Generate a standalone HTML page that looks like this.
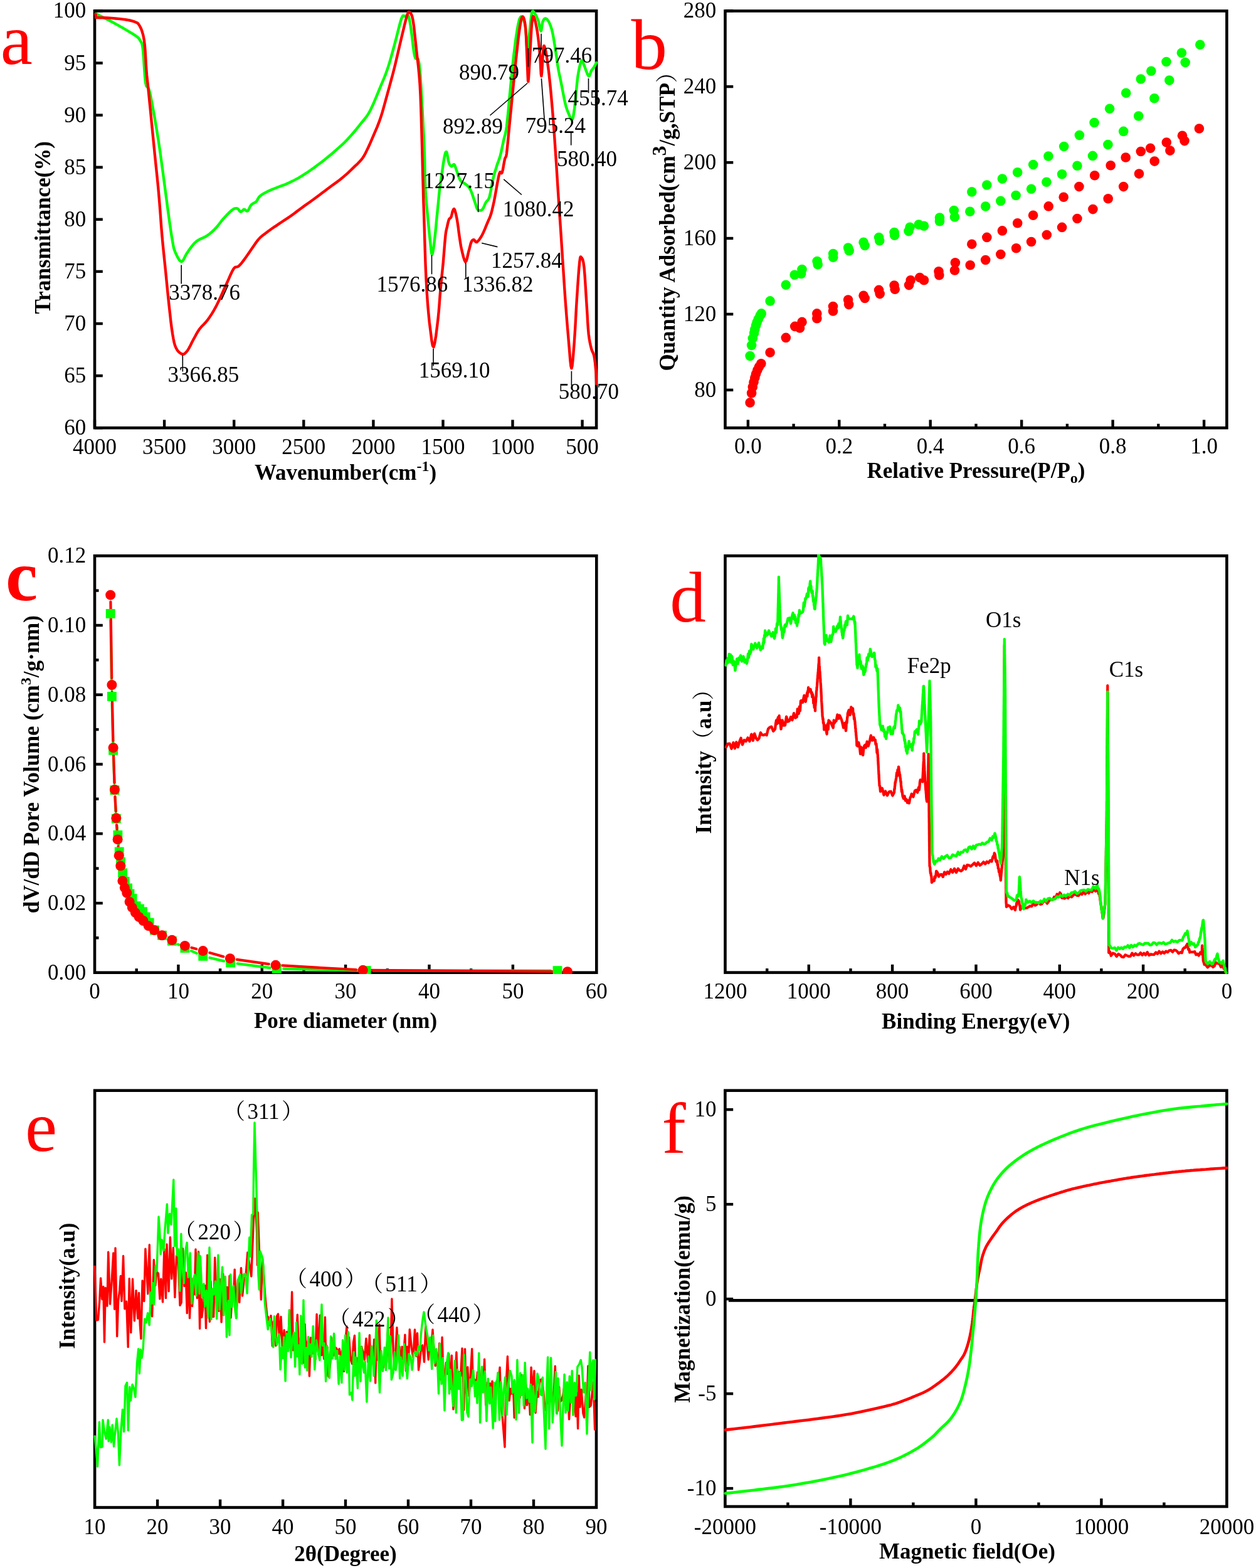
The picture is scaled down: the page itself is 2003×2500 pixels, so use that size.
<!DOCTYPE html>
<html><head><meta charset="utf-8"><style>
html,body{margin:0;padding:0;background:#fff;}
svg{display:block;}
text{font-family:"Liberation Serif","Noto Serif CJK SC",serif;}
</style></head><body>
<svg width="2003" height="2500" viewBox="0 0 2003 2500">
<rect width="2003" height="2500" fill="#fff"/>
<clipPath id="ca"><rect x="148.7" y="15.1" width="804.7" height="669.4"/></clipPath>
<rect x="151.0" y="17.4" width="800.1" height="664.8" fill="none" stroke="#000" stroke-width="4.6"/>
<line x1="151.0" y1="682.2" x2="151.0" y2="669.4" stroke="#000" stroke-width="4.4"/>
<line x1="262.1" y1="682.2" x2="262.1" y2="669.4" stroke="#000" stroke-width="4.4"/>
<line x1="373.2" y1="682.2" x2="373.2" y2="669.4" stroke="#000" stroke-width="4.4"/>
<line x1="484.3" y1="682.2" x2="484.3" y2="669.4" stroke="#000" stroke-width="4.4"/>
<line x1="595.4" y1="682.2" x2="595.4" y2="669.4" stroke="#000" stroke-width="4.4"/>
<line x1="706.5" y1="682.2" x2="706.5" y2="669.4" stroke="#000" stroke-width="4.4"/>
<line x1="817.5" y1="682.2" x2="817.5" y2="669.4" stroke="#000" stroke-width="4.4"/>
<line x1="928.6" y1="682.2" x2="928.6" y2="669.4" stroke="#000" stroke-width="4.4"/>
<line x1="151.0" y1="682.2" x2="163.8" y2="682.2" stroke="#000" stroke-width="4.4"/>
<line x1="151.0" y1="599.1" x2="163.8" y2="599.1" stroke="#000" stroke-width="4.4"/>
<line x1="151.0" y1="516.0" x2="163.8" y2="516.0" stroke="#000" stroke-width="4.4"/>
<line x1="151.0" y1="432.9" x2="163.8" y2="432.9" stroke="#000" stroke-width="4.4"/>
<line x1="151.0" y1="349.8" x2="163.8" y2="349.8" stroke="#000" stroke-width="4.4"/>
<line x1="151.0" y1="266.7" x2="163.8" y2="266.7" stroke="#000" stroke-width="4.4"/>
<line x1="151.0" y1="183.6" x2="163.8" y2="183.6" stroke="#000" stroke-width="4.4"/>
<line x1="151.0" y1="100.5" x2="163.8" y2="100.5" stroke="#000" stroke-width="4.4"/>
<line x1="151.0" y1="17.4" x2="163.8" y2="17.4" stroke="#000" stroke-width="4.4"/>
<rect x="1156.5" y="17.5" width="799.9" height="664.7" fill="none" stroke="#000" stroke-width="4.6"/>
<line x1="1192.9" y1="682.2" x2="1192.9" y2="669.4" stroke="#000" stroke-width="4.4"/>
<line x1="1265.6" y1="682.2" x2="1265.6" y2="675.7" stroke="#000" stroke-width="4.4"/>
<line x1="1338.3" y1="682.2" x2="1338.3" y2="669.4" stroke="#000" stroke-width="4.4"/>
<line x1="1411.0" y1="682.2" x2="1411.0" y2="675.7" stroke="#000" stroke-width="4.4"/>
<line x1="1483.7" y1="682.2" x2="1483.7" y2="669.4" stroke="#000" stroke-width="4.4"/>
<line x1="1556.5" y1="682.2" x2="1556.5" y2="675.7" stroke="#000" stroke-width="4.4"/>
<line x1="1629.2" y1="682.2" x2="1629.2" y2="669.4" stroke="#000" stroke-width="4.4"/>
<line x1="1701.9" y1="682.2" x2="1701.9" y2="675.7" stroke="#000" stroke-width="4.4"/>
<line x1="1774.6" y1="682.2" x2="1774.6" y2="669.4" stroke="#000" stroke-width="4.4"/>
<line x1="1847.3" y1="682.2" x2="1847.3" y2="675.7" stroke="#000" stroke-width="4.4"/>
<line x1="1920.1" y1="682.2" x2="1920.1" y2="669.4" stroke="#000" stroke-width="4.4"/>
<line x1="1156.5" y1="621.8" x2="1169.3" y2="621.8" stroke="#000" stroke-width="4.4"/>
<line x1="1156.5" y1="500.9" x2="1169.3" y2="500.9" stroke="#000" stroke-width="4.4"/>
<line x1="1156.5" y1="380.0" x2="1169.3" y2="380.0" stroke="#000" stroke-width="4.4"/>
<line x1="1156.5" y1="259.1" x2="1169.3" y2="259.1" stroke="#000" stroke-width="4.4"/>
<line x1="1156.5" y1="138.1" x2="1169.3" y2="138.1" stroke="#000" stroke-width="4.4"/>
<line x1="1156.5" y1="17.2" x2="1169.3" y2="17.2" stroke="#000" stroke-width="4.4"/>
<clipPath id="cc"><rect x="148.7" y="883.9" width="804.9" height="669.1"/></clipPath>
<rect x="151.0" y="886.2" width="800.3" height="664.5" fill="none" stroke="#000" stroke-width="4.6"/>
<line x1="217.7" y1="1550.7" x2="217.7" y2="1544.2" stroke="#000" stroke-width="4.4"/>
<line x1="284.4" y1="1550.7" x2="284.4" y2="1537.9" stroke="#000" stroke-width="4.4"/>
<line x1="351.1" y1="1550.7" x2="351.1" y2="1544.2" stroke="#000" stroke-width="4.4"/>
<line x1="417.8" y1="1550.7" x2="417.8" y2="1537.9" stroke="#000" stroke-width="4.4"/>
<line x1="484.5" y1="1550.7" x2="484.5" y2="1544.2" stroke="#000" stroke-width="4.4"/>
<line x1="551.1" y1="1550.7" x2="551.1" y2="1537.9" stroke="#000" stroke-width="4.4"/>
<line x1="617.8" y1="1550.7" x2="617.8" y2="1544.2" stroke="#000" stroke-width="4.4"/>
<line x1="684.5" y1="1550.7" x2="684.5" y2="1537.9" stroke="#000" stroke-width="4.4"/>
<line x1="751.2" y1="1550.7" x2="751.2" y2="1544.2" stroke="#000" stroke-width="4.4"/>
<line x1="817.9" y1="1550.7" x2="817.9" y2="1537.9" stroke="#000" stroke-width="4.4"/>
<line x1="884.6" y1="1550.7" x2="884.6" y2="1544.2" stroke="#000" stroke-width="4.4"/>
<line x1="151.0" y1="1495.3" x2="157.5" y2="1495.3" stroke="#000" stroke-width="4.4"/>
<line x1="151.0" y1="1440.0" x2="163.8" y2="1440.0" stroke="#000" stroke-width="4.4"/>
<line x1="151.0" y1="1384.6" x2="157.5" y2="1384.6" stroke="#000" stroke-width="4.4"/>
<line x1="151.0" y1="1329.2" x2="163.8" y2="1329.2" stroke="#000" stroke-width="4.4"/>
<line x1="151.0" y1="1273.8" x2="157.5" y2="1273.8" stroke="#000" stroke-width="4.4"/>
<line x1="151.0" y1="1218.5" x2="163.8" y2="1218.5" stroke="#000" stroke-width="4.4"/>
<line x1="151.0" y1="1163.1" x2="157.5" y2="1163.1" stroke="#000" stroke-width="4.4"/>
<line x1="151.0" y1="1107.7" x2="163.8" y2="1107.7" stroke="#000" stroke-width="4.4"/>
<line x1="151.0" y1="1052.3" x2="157.5" y2="1052.3" stroke="#000" stroke-width="4.4"/>
<line x1="151.0" y1="997.0" x2="163.8" y2="997.0" stroke="#000" stroke-width="4.4"/>
<line x1="151.0" y1="941.6" x2="157.5" y2="941.6" stroke="#000" stroke-width="4.4"/>
<clipPath id="cd"><rect x="1154.2" y="883.9" width="804.5" height="669.0"/></clipPath>
<rect x="1156.5" y="886.2" width="799.9" height="664.4" fill="none" stroke="#000" stroke-width="4.6"/>
<line x1="1889.7" y1="1550.6" x2="1889.7" y2="1544.1" stroke="#000" stroke-width="4.4"/>
<line x1="1823.1" y1="1550.6" x2="1823.1" y2="1537.8" stroke="#000" stroke-width="4.4"/>
<line x1="1756.4" y1="1550.6" x2="1756.4" y2="1544.1" stroke="#000" stroke-width="4.4"/>
<line x1="1689.8" y1="1550.6" x2="1689.8" y2="1537.8" stroke="#000" stroke-width="4.4"/>
<line x1="1623.1" y1="1550.6" x2="1623.1" y2="1544.1" stroke="#000" stroke-width="4.4"/>
<line x1="1556.5" y1="1550.6" x2="1556.5" y2="1537.8" stroke="#000" stroke-width="4.4"/>
<line x1="1489.8" y1="1550.6" x2="1489.8" y2="1544.1" stroke="#000" stroke-width="4.4"/>
<line x1="1423.1" y1="1550.6" x2="1423.1" y2="1537.8" stroke="#000" stroke-width="4.4"/>
<line x1="1356.5" y1="1550.6" x2="1356.5" y2="1544.1" stroke="#000" stroke-width="4.4"/>
<line x1="1289.8" y1="1550.6" x2="1289.8" y2="1537.8" stroke="#000" stroke-width="4.4"/>
<line x1="1223.2" y1="1550.6" x2="1223.2" y2="1544.1" stroke="#000" stroke-width="4.4"/>
<clipPath id="ce"><rect x="148.8" y="1736.4" width="804.5" height="669.4"/></clipPath>
<rect x="151.1" y="1738.7" width="799.9" height="664.8" fill="none" stroke="#000" stroke-width="4.6"/>
<line x1="251.1" y1="2403.5" x2="251.1" y2="2390.7" stroke="#000" stroke-width="4.4"/>
<line x1="351.1" y1="2403.5" x2="351.1" y2="2390.7" stroke="#000" stroke-width="4.4"/>
<line x1="451.1" y1="2403.5" x2="451.1" y2="2390.7" stroke="#000" stroke-width="4.4"/>
<line x1="551.0" y1="2403.5" x2="551.0" y2="2390.7" stroke="#000" stroke-width="4.4"/>
<line x1="651.0" y1="2403.5" x2="651.0" y2="2390.7" stroke="#000" stroke-width="4.4"/>
<line x1="751.0" y1="2403.5" x2="751.0" y2="2390.7" stroke="#000" stroke-width="4.4"/>
<line x1="851.0" y1="2403.5" x2="851.0" y2="2390.7" stroke="#000" stroke-width="4.4"/>
<clipPath id="cf"><rect x="1154.1" y="1736.4" width="804.6" height="667.9"/></clipPath>
<rect x="1156.4" y="1738.7" width="800.0" height="663.3" fill="none" stroke="#000" stroke-width="4.6"/>
<line x1="1256.4" y1="2402.0" x2="1256.4" y2="2395.5" stroke="#000" stroke-width="4.4"/>
<line x1="1356.4" y1="2402.0" x2="1356.4" y2="2389.2" stroke="#000" stroke-width="4.4"/>
<line x1="1456.4" y1="2402.0" x2="1456.4" y2="2395.5" stroke="#000" stroke-width="4.4"/>
<line x1="1556.4" y1="2402.0" x2="1556.4" y2="2389.2" stroke="#000" stroke-width="4.4"/>
<line x1="1656.4" y1="2402.0" x2="1656.4" y2="2395.5" stroke="#000" stroke-width="4.4"/>
<line x1="1756.4" y1="2402.0" x2="1756.4" y2="2389.2" stroke="#000" stroke-width="4.4"/>
<line x1="1856.4" y1="2402.0" x2="1856.4" y2="2395.5" stroke="#000" stroke-width="4.4"/>
<line x1="1156.4" y1="2373.1" x2="1169.2" y2="2373.1" stroke="#000" stroke-width="4.4"/>
<line x1="1156.4" y1="2222.1" x2="1169.2" y2="2222.1" stroke="#000" stroke-width="4.4"/>
<line x1="1156.4" y1="2071.1" x2="1169.2" y2="2071.1" stroke="#000" stroke-width="4.4"/>
<line x1="1156.4" y1="1920.1" x2="1169.2" y2="1920.1" stroke="#000" stroke-width="4.4"/>
<line x1="1156.4" y1="1769.1" x2="1169.2" y2="1769.1" stroke="#000" stroke-width="4.4"/>
<line x1="1161.9" y1="2073.4" x2="1956.4" y2="2073.4" stroke="#000" stroke-width="4.6"/>
<g clip-path="url(#ca)">
<polyline points="152.8,22.0 157.0,24.0 163.0,26.9 170.2,30.5 177.8,34.5 186.7,39.4 196.9,45.1 206.5,50.8 214.0,55.4 218.4,58.5 220.9,60.7 222.4,62.6 223.8,65.1 225.2,67.4 226.2,69.3 227.0,72.7 227.9,79.0 228.9,90.5 229.9,105.6 230.9,120.7 232.1,131.9 233.4,137.1 234.7,138.7 236.2,139.6 237.7,143.0 239.3,149.4 241.0,157.3 242.7,166.4 244.6,176.4 246.7,188.0 248.9,201.1 251.1,214.4 253.0,226.5 254.6,237.0 255.9,246.5 257.2,255.8 258.5,265.5 259.9,275.7 261.3,286.2 262.7,296.7 264.1,307.2 265.5,317.8 266.9,328.4 268.3,338.9 269.7,349.0 271.1,358.9 272.5,368.7 273.9,377.7 275.2,385.2 276.2,390.8 277.0,394.9 278.0,398.3 279.4,401.9 281.5,406.5 284.0,411.4 286.7,415.4 289.2,417.2 291.3,416.1 293.3,412.8 295.3,408.6 297.5,404.6 300.1,400.8 303.0,396.6 305.9,392.6 308.6,389.3 310.8,387.0 312.6,385.3 314.6,383.9 317.0,382.4 320.1,380.8 323.6,379.2 327.3,377.5 330.9,375.4 334.4,372.7 338.0,369.6 341.5,366.3 344.8,362.9 347.7,359.5 350.4,356.0 353.1,352.5 356.0,349.0 359.4,345.2 363.1,341.3 366.8,337.7 369.9,335.0 372.4,333.3 374.6,332.4 376.4,332.1 378.2,332.3 379.8,333.3 381.2,335.1 382.5,336.9 383.8,337.8 385.2,337.3 386.6,335.9 388.0,334.5 389.4,333.7 390.8,334.2 392.1,335.5 393.5,336.5 394.9,336.5 396.2,334.8 397.5,332.1 398.9,329.1 400.5,326.7 402.4,325.1 404.6,323.9 406.9,322.7 408.8,321.2 410.2,319.3 411.2,317.2 412.5,315.0 414.4,312.8 417.1,310.7 420.4,308.7 424.1,306.6 428.3,304.5 433.3,302.3 439.2,300.0 444.8,297.8 449.2,296.1 451.7,295.2 453.0,294.8 454.3,294.4 456.7,293.3 460.7,291.4 465.7,289.1 471.0,286.4 476.2,283.6 481.0,280.7 485.8,277.7 490.6,274.5 495.7,271.0 501.2,267.1 507.0,262.8 512.7,258.5 517.9,254.4 522.4,250.8 526.4,247.5 530.4,244.1 534.6,240.4 539.2,236.4 544.0,232.1 549.0,227.5 554.1,222.3 559.7,216.1 565.6,209.2 571.4,202.2 576.4,195.9 580.4,191.0 583.7,186.9 586.8,182.5 590.3,176.4 594.4,167.8 598.8,157.5 603.2,146.9 607.0,137.5 610.2,130.0 612.9,123.5 615.4,117.1 618.1,109.6 620.9,100.7 623.7,91.0 626.5,80.9 629.3,70.7 632.2,59.5 635.2,47.5 638.0,36.7 640.4,28.9 642.2,25.4 643.6,24.9 644.7,25.7 646.0,26.1 647.4,25.4 648.8,24.5 650.2,24.5 651.5,26.1 652.6,29.8 653.7,35.2 654.7,41.5 655.7,48.4 656.8,56.5 657.9,65.8 658.9,74.8 659.9,81.8 660.7,86.4 661.3,89.3 661.9,91.3 662.7,92.9 663.7,93.5 664.8,93.2 665.8,93.0 666.8,94.3 667.6,97.1 668.3,100.8 668.9,105.8 669.6,112.4 670.3,120.2 670.9,129.2 671.6,140.3 672.4,154.2 673.4,172.6 674.6,194.7 675.7,217.3 676.6,237.7 677.2,255.2 677.5,271.5 677.8,286.4 678.3,300.0 679.0,311.9 679.9,322.2 680.8,331.8 681.8,341.8 682.8,352.7 683.9,363.9 684.9,374.4 685.9,383.5 686.7,391.5 687.5,398.7 688.2,403.8 689.0,405.8 689.9,403.8 690.9,398.6 691.9,391.5 692.9,383.5 693.9,374.4 695.0,363.9 696.0,352.7 697.1,341.8 698.2,330.9 699.3,319.6 700.3,308.9 701.3,300.0 702.1,293.6 702.8,289.0 703.5,284.8 704.3,279.6 705.3,272.5 706.4,264.5 707.6,256.8 708.6,250.8 709.5,246.6 710.4,243.6 711.2,242.1 712.1,242.2 713.0,245.0 713.9,250.0 714.8,255.4 715.8,259.5 716.8,261.9 717.9,263.6 719.0,264.7 720.1,265.2 721.2,264.7 722.2,263.4 723.3,262.2 724.4,262.3 725.5,264.1 726.5,267.0 727.6,270.4 728.8,273.8 730.1,277.4 731.4,281.4 732.8,285.1 734.5,288.2 736.5,290.2 738.7,291.5 741.0,292.6 743.1,294.0 745.0,295.7 746.8,297.4 748.5,299.6 750.3,302.6 752.2,307.0 754.1,312.5 755.9,318.0 757.5,322.7 758.7,326.4 759.6,329.7 760.6,332.3 761.8,334.2 763.4,335.3 765.3,335.6 767.2,335.3 769.0,334.2 770.6,332.1 772.0,329.0 773.4,325.6 774.8,322.7 776.2,320.8 777.6,319.5 779.1,317.6 780.5,314.1 781.9,308.1 783.4,300.4 784.9,292.4 786.3,285.3 787.7,279.6 789.1,274.5 790.6,269.8 792.0,265.2 793.4,260.9 794.9,257.0 796.4,252.8 797.8,248.0 799.3,242.0 800.7,235.2 802.2,228.4 803.5,222.1 804.7,217.5 805.7,214.0 806.7,209.5 807.9,202.0 809.2,190.2 810.7,175.5 812.1,159.7 813.6,144.4 815.0,129.8 816.4,115.1 817.9,100.7 819.4,86.9 821.1,73.2 822.9,59.6 824.8,47.4 826.5,38.0 828.0,31.8 829.5,28.1 830.9,26.5 832.3,26.5 833.8,28.3 835.3,32.1 836.8,37.4 838.0,43.8 838.9,53.1 839.6,65.0 840.2,75.5 840.9,81.1 841.6,79.9 842.3,74.3 843.0,66.3 843.8,58.1 844.8,48.9 845.9,38.0 847.0,27.8 848.1,20.8 849.1,17.9 850.2,17.8 851.2,19.1 852.4,20.8 853.8,22.7 855.3,25.5 856.8,28.8 858.2,32.3 859.4,36.9 860.5,42.5 861.6,47.3 862.5,49.5 863.3,47.9 864.0,43.7 864.6,38.8 865.4,35.1 866.3,32.8 867.4,31.0 868.5,29.8 869.7,29.4 871.0,29.8 872.5,30.8 873.9,32.6 875.4,35.1 876.8,38.2 878.3,42.0 879.8,46.6 881.2,52.4 882.7,60.2 884.2,69.5 885.7,78.9 886.9,86.9 887.8,92.7 888.3,97.3 888.9,101.7 889.8,107.0 891.0,113.6 892.5,120.9 894.1,128.4 895.6,135.8 897.0,143.3 898.5,150.9 899.9,158.2 901.3,164.6 902.7,169.9 904.2,174.5 905.7,178.4 907.1,181.8 908.6,185.4 910.0,188.8 911.5,190.9 912.8,190.4 914.0,186.8 915.0,180.7 916.1,173.1 917.1,164.6 918.2,154.6 919.2,142.9 920.3,131.3 921.5,121.4 922.9,113.2 924.4,106.0 925.8,100.4 927.2,97.0 928.3,96.3 929.3,98.0 930.3,101.0 931.5,104.2 933.2,108.4 935.1,113.8 937.0,118.7 938.7,121.4 940.0,121.0 941.0,118.5 942.0,115.4 943.0,112.8 944.1,111.2 945.2,109.8 946.3,108.5 947.3,107.0 948.4,105.2 949.5,103.1 950.4,101.3 951.1,100.0" fill="none" stroke="#00ff00" stroke-width="4.4" stroke-linejoin="round" stroke-linecap="round"/>
<polyline points="152.5,22.5 152.7,23.5 152.9,25.0 153.2,26.4 153.5,27.5 153.3,27.9 152.9,28.0 153.1,28.0 155.0,28.0 159.1,28.2 164.9,28.3 171.4,28.5 177.8,28.9 184.2,29.5 191.0,30.1 197.5,30.9 202.9,31.7 207.1,32.5 210.4,33.3 213.1,34.1 215.4,35.0 217.3,35.7 218.6,36.4 219.8,37.2 221.0,38.7 222.4,40.7 223.8,43.2 225.2,46.2 226.5,49.8 227.7,53.8 228.8,58.3 229.8,63.8 230.7,70.7 231.5,80.0 232.2,91.1 232.8,102.5 233.5,112.4 234.1,119.7 234.7,125.4 235.4,131.6 236.3,140.2 237.5,152.2 238.9,166.3 240.4,181.3 241.8,195.9 243.2,209.8 244.6,223.8 246.0,237.7 247.4,251.6 248.8,265.2 250.2,278.5 251.6,292.3 253.0,307.2 254.4,323.9 255.8,342.0 257.1,360.0 258.5,376.8 259.9,391.7 261.3,405.5 262.7,418.9 264.1,432.5 265.5,446.7 266.9,461.0 268.3,475.0 269.7,488.1 271.1,500.5 272.4,512.5 273.8,523.4 275.2,532.7 276.5,540.1 277.7,546.0 279.1,550.8 280.8,555.0 283.0,558.7 285.5,561.6 288.2,563.6 290.6,564.7 292.7,564.7 294.8,563.6 296.8,561.7 298.9,559.1 301.2,555.4 303.7,550.7 306.1,545.7 308.6,541.0 311.0,536.7 313.3,532.4 315.8,528.2 318.4,524.3 321.3,520.8 324.4,517.7 327.6,514.4 330.9,510.4 334.2,505.7 337.6,500.6 341.1,494.8 344.8,488.1 348.9,479.8 353.3,470.1 357.6,460.5 361.5,452.0 364.8,444.7 367.6,438.2 370.2,432.6 372.7,428.3 374.9,426.1 376.9,425.6 378.8,425.4 381.0,424.1 383.4,421.6 385.9,418.6 388.7,414.9 392.1,410.2 396.6,403.8 401.9,396.0 407.1,388.4 411.6,382.4 415.0,378.6 417.7,376.3 420.1,374.5 422.7,372.6 425.4,370.5 428.0,368.5 430.8,366.5 433.9,364.3 437.4,361.9 441.3,359.3 445.2,356.6 449.2,354.0 453.1,351.4 457.0,348.8 461.0,346.2 465.0,343.4 469.0,340.4 473.1,337.4 477.3,334.2 481.7,330.9 486.3,327.6 491.1,324.2 496.1,320.7 501.2,317.0 506.6,313.0 512.2,308.8 517.9,304.5 523.5,300.3 529.2,296.1 535.0,291.9 540.6,287.7 545.8,283.6 550.4,279.6 554.7,275.8 558.7,272.0 562.5,268.3 566.3,264.7 570.0,261.3 573.4,257.8 576.4,254.4 578.8,251.2 580.7,248.1 582.6,244.7 584.7,240.4 587.3,235.0 590.1,228.8 593.0,222.1 595.9,215.4 598.7,208.9 601.5,202.4 604.2,195.4 607.0,187.6 609.8,178.7 612.5,169.0 615.3,158.8 618.1,148.6 620.9,138.5 623.7,128.2 626.5,117.7 629.3,106.8 632.1,95.0 635.0,82.6 637.8,70.5 640.4,59.5 642.8,49.6 645.0,40.3 647.0,32.3 648.7,26.1 650.0,22.1 651.0,19.8 651.8,18.9 652.9,19.2 654.2,20.1 655.6,22.1 657.1,25.7 658.5,31.7 659.9,40.9 661.2,52.6 662.6,65.8 664.0,79.0 665.5,91.9 667.0,105.1 668.4,119.2 669.6,134.7 670.5,151.8 671.2,170.1 671.8,189.5 672.4,209.8 673.0,231.8 673.6,255.2 674.2,278.5 674.8,300.0 675.3,319.0 675.9,336.5 676.4,353.2 676.9,369.6 677.4,386.1 677.9,402.3 678.4,417.8 679.0,432.3 679.6,445.6 680.3,458.0 681.0,469.6 681.8,481.0 682.7,492.2 683.7,503.0 684.7,513.3 685.9,522.8 687.2,533.0 688.5,543.5 690.0,551.3 691.5,553.4 693.2,547.6 695.1,536.1 696.9,522.0 698.5,508.8 699.7,496.8 700.7,484.3 701.6,471.9 702.6,460.1 703.7,449.2 704.7,438.8 705.8,428.6 706.8,418.3 707.7,407.2 708.6,395.8 709.5,385.2 710.3,376.6 711.0,370.8 711.7,367.0 712.4,364.2 713.1,361.3 713.8,358.0 714.5,355.0 715.2,352.3 715.9,350.1 716.7,348.7 717.7,348.0 718.6,347.3 719.4,346.0 720.1,343.8 720.8,341.0 721.4,338.2 722.1,336.2 722.8,334.7 723.4,333.5 724.1,333.1 724.9,334.1 725.9,336.9 727.0,341.1 728.1,346.2 729.1,351.5 730.0,357.3 730.9,363.8 731.7,370.4 732.6,376.6 733.4,382.1 734.2,387.4 735.0,392.4 736.1,397.5 737.5,403.4 739.1,409.9 740.8,415.1 742.3,417.6 743.6,416.1 744.9,411.8 746.1,406.4 747.2,401.6 748.3,397.5 749.4,393.2 750.4,389.3 751.4,386.3 752.4,384.3 753.4,383.0 754.4,382.3 755.5,382.1 756.6,382.9 757.7,384.5 758.9,385.9 760.4,386.0 762.3,384.4 764.5,381.8 766.8,378.3 769.0,374.5 771.2,369.9 773.5,364.6 775.7,359.2 777.7,354.4 779.3,350.7 780.7,347.6 782.0,344.3 783.4,340.0 784.8,334.6 786.2,328.5 787.7,321.7 789.2,314.1 790.9,304.7 792.8,293.9 794.7,283.8 796.3,276.7 797.6,274.3 798.7,275.0 799.7,276.2 800.7,275.3 801.8,271.0 802.9,264.9 804.0,258.7 805.0,253.7 805.8,251.4 806.5,250.7 807.1,249.4 807.9,245.1 808.8,237.1 809.9,226.6 811.0,214.6 812.2,202.0 813.5,188.6 815.0,174.1 816.4,159.1 817.9,144.4 819.3,129.7 820.8,114.9 822.3,100.5 823.7,86.9 825.2,73.9 826.6,61.2 828.1,49.9 829.4,40.9 830.6,34.3 831.6,29.7 832.7,27.1 833.7,26.5 834.8,27.7 835.9,30.7 837.0,35.9 838.0,43.8 838.9,56.0 839.6,71.8 840.3,88.0 840.9,101.3 841.3,112.2 841.7,121.9 842.0,128.5 842.4,130.0 843.0,124.4 843.7,113.3 844.5,99.8 845.2,86.9 845.9,74.2 846.6,60.5 847.4,47.7 848.1,38.0 848.8,31.7 849.4,27.8 850.1,26.1 851.0,26.5 852.3,29.5 853.8,34.9 855.3,41.9 856.7,49.5 857.9,57.9 859.1,67.5 860.1,77.4 861.0,86.9 861.7,97.5 862.3,109.0 862.8,118.1 863.4,121.4 864.1,115.8 864.8,103.8 865.5,90.6 866.2,81.1 866.7,76.3 867.1,73.7 867.6,73.0 868.2,74.0 869.1,76.7 870.2,81.2 871.4,87.5 872.6,95.5 873.9,105.3 875.4,116.8 876.8,129.9 878.3,144.4 879.7,160.4 881.2,178.0 882.7,196.8 884.1,216.3 885.5,236.9 887.0,258.6 888.4,280.7 889.8,302.6 891.2,324.2 892.7,345.8 894.2,367.3 895.6,388.9 897.0,410.8 898.5,432.9 899.9,454.6 901.3,475.2 902.8,494.9 904.3,514.0 905.8,531.7 907.1,547.1 908.3,561.3 909.3,574.2 910.4,583.6 911.4,587.3 912.5,583.6 913.5,574.2 914.6,561.3 915.7,547.1 916.8,531.0 917.9,512.2 918.9,492.9 920.0,475.2 921.1,458.6 922.2,442.3 923.3,428.1 924.3,417.6 925.1,411.7 925.7,409.5 926.4,409.5 927.2,410.5 928.2,411.7 929.3,414.0 930.4,418.5 931.5,426.3 932.6,439.2 933.7,456.2 934.8,474.0 935.8,489.5 936.6,502.2 937.2,513.6 937.9,523.8 938.7,532.7 939.7,540.1 940.8,546.2 941.9,551.2 943.0,555.7 944.1,559.1 945.2,561.5 946.3,563.8 947.3,567.2 948.2,572.2 949.0,578.1 949.6,584.3 950.2,590.2 950.6,596.2 950.8,602.5 951.0,608.1 951.1,612.0" fill="none" stroke="#ff0000" stroke-width="4.4" stroke-linejoin="round" stroke-linecap="round"/>
</g>
<circle cx="1196.1" cy="641.9" r="7.8" fill="#ff0000"/>
<circle cx="1198.6" cy="626.7" r="7.8" fill="#ff0000"/>
<circle cx="1200.3" cy="617.1" r="7.8" fill="#ff0000"/>
<circle cx="1202.0" cy="609.3" r="7.8" fill="#ff0000"/>
<circle cx="1203.8" cy="602.3" r="7.8" fill="#ff0000"/>
<circle cx="1205.5" cy="596.3" r="7.8" fill="#ff0000"/>
<circle cx="1207.8" cy="590.2" r="7.8" fill="#ff0000"/>
<circle cx="1210.4" cy="585.0" r="7.8" fill="#ff0000"/>
<circle cx="1213.8" cy="579.8" r="7.8" fill="#ff0000"/>
<circle cx="1228.1" cy="562.0" r="7.8" fill="#ff0000"/>
<circle cx="1253.3" cy="538.4" r="7.8" fill="#ff0000"/>
<circle cx="1267.7" cy="520.4" r="7.8" fill="#ff0000"/>
<circle cx="1275.5" cy="523.0" r="7.8" fill="#ff0000"/>
<circle cx="1279.0" cy="513.4" r="7.8" fill="#ff0000"/>
<circle cx="1302.8" cy="499.9" r="7.8" fill="#ff0000"/>
<circle cx="1302.8" cy="507.7" r="7.8" fill="#ff0000"/>
<circle cx="1328.5" cy="488.6" r="7.8" fill="#ff0000"/>
<circle cx="1328.5" cy="496.0" r="7.8" fill="#ff0000"/>
<circle cx="1352.6" cy="478.0" r="7.8" fill="#ff0000"/>
<circle cx="1353.7" cy="485.6" r="7.8" fill="#ff0000"/>
<circle cx="1377.1" cy="471.2" r="7.8" fill="#ff0000"/>
<circle cx="1379.2" cy="475.4" r="7.8" fill="#ff0000"/>
<circle cx="1401.6" cy="462.4" r="7.8" fill="#ff0000"/>
<circle cx="1403.2" cy="468.6" r="7.8" fill="#ff0000"/>
<circle cx="1426.1" cy="455.1" r="7.8" fill="#ff0000"/>
<circle cx="1427.2" cy="461.3" r="7.8" fill="#ff0000"/>
<circle cx="1452.2" cy="446.7" r="7.8" fill="#ff0000"/>
<circle cx="1449.6" cy="454.6" r="7.8" fill="#ff0000"/>
<circle cx="1466.8" cy="442.6" r="7.8" fill="#ff0000"/>
<circle cx="1473.5" cy="446.7" r="7.8" fill="#ff0000"/>
<circle cx="1497.0" cy="432.7" r="7.8" fill="#ff0000"/>
<circle cx="1497.8" cy="438.8" r="7.8" fill="#ff0000"/>
<circle cx="1523.4" cy="418.8" r="7.8" fill="#ff0000"/>
<circle cx="1522.5" cy="431.0" r="7.8" fill="#ff0000"/>
<circle cx="1549.8" cy="389.3" r="7.8" fill="#ff0000"/>
<circle cx="1573.8" cy="378.4" r="7.8" fill="#ff0000"/>
<circle cx="1598.4" cy="367.9" r="7.8" fill="#ff0000"/>
<circle cx="1622.7" cy="355.8" r="7.8" fill="#ff0000"/>
<circle cx="1647.6" cy="343.3" r="7.8" fill="#ff0000"/>
<circle cx="1672.2" cy="328.9" r="7.8" fill="#ff0000"/>
<circle cx="1696.2" cy="314.3" r="7.8" fill="#ff0000"/>
<circle cx="1720.9" cy="297.6" r="7.8" fill="#ff0000"/>
<circle cx="1745.7" cy="279.7" r="7.8" fill="#ff0000"/>
<circle cx="1771.2" cy="263.7" r="7.8" fill="#ff0000"/>
<circle cx="1795.2" cy="251.0" r="7.8" fill="#ff0000"/>
<circle cx="1819.3" cy="241.5" r="7.8" fill="#ff0000"/>
<circle cx="1834.6" cy="236.3" r="7.8" fill="#ff0000"/>
<circle cx="1860.3" cy="227.1" r="7.8" fill="#ff0000"/>
<circle cx="1885.5" cy="216.3" r="7.8" fill="#ff0000"/>
<circle cx="1912.4" cy="205.0" r="7.8" fill="#ff0000"/>
<circle cx="1547.2" cy="422.8" r="7.8" fill="#ff0000"/>
<circle cx="1571.7" cy="414.5" r="7.8" fill="#ff0000"/>
<circle cx="1595.8" cy="405.5" r="7.8" fill="#ff0000"/>
<circle cx="1620.6" cy="395.7" r="7.8" fill="#ff0000"/>
<circle cx="1644.6" cy="385.5" r="7.8" fill="#ff0000"/>
<circle cx="1669.3" cy="374.5" r="7.8" fill="#ff0000"/>
<circle cx="1693.6" cy="362.4" r="7.8" fill="#ff0000"/>
<circle cx="1717.9" cy="348.5" r="7.8" fill="#ff0000"/>
<circle cx="1742.9" cy="333.6" r="7.8" fill="#ff0000"/>
<circle cx="1767.2" cy="316.7" r="7.8" fill="#ff0000"/>
<circle cx="1791.7" cy="297.6" r="7.8" fill="#ff0000"/>
<circle cx="1816.5" cy="277.1" r="7.8" fill="#ff0000"/>
<circle cx="1841.2" cy="257.1" r="7.8" fill="#ff0000"/>
<circle cx="1865.9" cy="240.1" r="7.8" fill="#ff0000"/>
<circle cx="1889.0" cy="224.6" r="7.8" fill="#ff0000"/>
<circle cx="1196.1" cy="567.6" r="7.8" fill="#00ff00"/>
<circle cx="1198.6" cy="550.6" r="7.8" fill="#00ff00"/>
<circle cx="1200.3" cy="539.5" r="7.8" fill="#00ff00"/>
<circle cx="1202.6" cy="531.1" r="7.8" fill="#00ff00"/>
<circle cx="1203.8" cy="525.0" r="7.8" fill="#00ff00"/>
<circle cx="1205.5" cy="519.0" r="7.8" fill="#00ff00"/>
<circle cx="1207.2" cy="513.7" r="7.8" fill="#00ff00"/>
<circle cx="1209.5" cy="508.5" r="7.8" fill="#00ff00"/>
<circle cx="1212.1" cy="503.3" r="7.8" fill="#00ff00"/>
<circle cx="1214.2" cy="499.9" r="7.8" fill="#00ff00"/>
<circle cx="1228.1" cy="479.9" r="7.8" fill="#00ff00"/>
<circle cx="1253.3" cy="454.3" r="7.8" fill="#00ff00"/>
<circle cx="1267.2" cy="438.2" r="7.8" fill="#00ff00"/>
<circle cx="1277.6" cy="436.5" r="7.8" fill="#00ff00"/>
<circle cx="1279.0" cy="429.5" r="7.8" fill="#00ff00"/>
<circle cx="1303.1" cy="416.5" r="7.8" fill="#00ff00"/>
<circle cx="1304.2" cy="421.7" r="7.8" fill="#00ff00"/>
<circle cx="1328.7" cy="404.5" r="7.8" fill="#00ff00"/>
<circle cx="1328.7" cy="410.3" r="7.8" fill="#00ff00"/>
<circle cx="1352.6" cy="395.1" r="7.8" fill="#00ff00"/>
<circle cx="1354.2" cy="399.8" r="7.8" fill="#00ff00"/>
<circle cx="1377.1" cy="386.3" r="7.8" fill="#00ff00"/>
<circle cx="1379.2" cy="391.5" r="7.8" fill="#00ff00"/>
<circle cx="1401.6" cy="378.5" r="7.8" fill="#00ff00"/>
<circle cx="1402.7" cy="383.7" r="7.8" fill="#00ff00"/>
<circle cx="1426.1" cy="370.6" r="7.8" fill="#00ff00"/>
<circle cx="1426.6" cy="375.3" r="7.8" fill="#00ff00"/>
<circle cx="1451.1" cy="362.3" r="7.8" fill="#00ff00"/>
<circle cx="1449.0" cy="368.6" r="7.8" fill="#00ff00"/>
<circle cx="1465.2" cy="358.1" r="7.8" fill="#00ff00"/>
<circle cx="1473.5" cy="360.2" r="7.8" fill="#00ff00"/>
<circle cx="1498.5" cy="347.1" r="7.8" fill="#00ff00"/>
<circle cx="1498.5" cy="352.8" r="7.8" fill="#00ff00"/>
<circle cx="1521.3" cy="335.5" r="7.8" fill="#00ff00"/>
<circle cx="1522.5" cy="345.9" r="7.8" fill="#00ff00"/>
<circle cx="1549.8" cy="305.9" r="7.8" fill="#00ff00"/>
<circle cx="1573.8" cy="295.0" r="7.8" fill="#00ff00"/>
<circle cx="1598.4" cy="285.1" r="7.8" fill="#00ff00"/>
<circle cx="1622.7" cy="274.7" r="7.8" fill="#00ff00"/>
<circle cx="1647.7" cy="262.5" r="7.8" fill="#00ff00"/>
<circle cx="1671.9" cy="249.0" r="7.8" fill="#00ff00"/>
<circle cx="1696.7" cy="233.5" r="7.8" fill="#00ff00"/>
<circle cx="1721.4" cy="215.6" r="7.8" fill="#00ff00"/>
<circle cx="1745.1" cy="195.5" r="7.8" fill="#00ff00"/>
<circle cx="1769.6" cy="173.2" r="7.8" fill="#00ff00"/>
<circle cx="1795.7" cy="148.2" r="7.8" fill="#00ff00"/>
<circle cx="1819.3" cy="126.0" r="7.8" fill="#00ff00"/>
<circle cx="1835.8" cy="113.3" r="7.8" fill="#00ff00"/>
<circle cx="1860.0" cy="98.5" r="7.8" fill="#00ff00"/>
<circle cx="1884.4" cy="84.3" r="7.8" fill="#00ff00"/>
<circle cx="1913.8" cy="71.3" r="7.8" fill="#00ff00"/>
<circle cx="1546.8" cy="337.2" r="7.8" fill="#00ff00"/>
<circle cx="1571.7" cy="329.0" r="7.8" fill="#00ff00"/>
<circle cx="1595.8" cy="320.4" r="7.8" fill="#00ff00"/>
<circle cx="1620.1" cy="311.5" r="7.8" fill="#00ff00"/>
<circle cx="1644.6" cy="301.2" r="7.8" fill="#00ff00"/>
<circle cx="1668.9" cy="290.3" r="7.8" fill="#00ff00"/>
<circle cx="1693.6" cy="277.8" r="7.8" fill="#00ff00"/>
<circle cx="1717.9" cy="264.2" r="7.8" fill="#00ff00"/>
<circle cx="1742.5" cy="248.4" r="7.8" fill="#00ff00"/>
<circle cx="1766.9" cy="230.6" r="7.8" fill="#00ff00"/>
<circle cx="1791.7" cy="209.4" r="7.8" fill="#00ff00"/>
<circle cx="1815.7" cy="185.0" r="7.8" fill="#00ff00"/>
<circle cx="1840.9" cy="156.7" r="7.8" fill="#00ff00"/>
<circle cx="1864.8" cy="128.1" r="7.8" fill="#00ff00"/>
<circle cx="1890.2" cy="99.6" r="7.8" fill="#00ff00"/>
<g clip-path="url(#cc)">
<path d="M176.4,989.4L178.2,1099.4M178.7,1121.4L180.3,1185.3M181.0,1207.3L182.5,1248.8M183.5,1270.8L184.7,1294.3M186.4,1316.2L186.8,1320.5M188.8,1342.4L189.3,1347.0M283.9,1505.6L285.3,1506.3M305.0,1516.1L313.6,1519.9M334.4,1527.0L357.0,1532.4M378.6,1536.4L430.4,1543.1M452.3,1544.7L573.2,1547.3M595.2,1547.5L878.0,1547.6" stroke="#00ff00" stroke-width="4.2" stroke-linecap="round" fill="none"/>
<path d="M176.4,959.7L178.2,1081.0M178.6,1103.0L180.4,1181.2M181.0,1203.2L182.5,1248.0M183.5,1270.0L184.7,1293.3M186.0,1315.3L186.9,1327.4M188.5,1349.4L188.8,1353.2M193.7,1391.5L194.0,1393.5M305.5,1510.9L313.1,1513.1M334.3,1519.1L356.3,1525.2M377.8,1529.8L428.7,1537.2M450.6,1539.4L567.8,1546.2M589.8,1546.9L894.0,1549.1" stroke="#ff0000" stroke-width="4.2" stroke-linecap="round" fill="none"/>
<rect x="168.8" y="971.0" width="14.8" height="14.8" fill="#00ff00"/>
<rect x="171.0" y="1103.0" width="14.8" height="14.8" fill="#00ff00"/>
<rect x="173.2" y="1188.9" width="14.8" height="14.8" fill="#00ff00"/>
<rect x="175.5" y="1252.4" width="14.8" height="14.8" fill="#00ff00"/>
<rect x="177.9" y="1297.9" width="14.8" height="14.8" fill="#00ff00"/>
<rect x="180.5" y="1324.0" width="14.8" height="14.8" fill="#00ff00"/>
<rect x="182.8" y="1350.6" width="14.8" height="14.8" fill="#00ff00"/>
<rect x="185.1" y="1366.7" width="14.8" height="14.8" fill="#00ff00"/>
<rect x="188.2" y="1384.5" width="14.8" height="14.8" fill="#00ff00"/>
<rect x="191.7" y="1398.0" width="14.8" height="14.8" fill="#00ff00"/>
<rect x="196.2" y="1408.6" width="14.8" height="14.8" fill="#00ff00"/>
<rect x="199.6" y="1417.6" width="14.8" height="14.8" fill="#00ff00"/>
<rect x="203.7" y="1425.2" width="14.8" height="14.8" fill="#00ff00"/>
<rect x="209.7" y="1437.2" width="14.8" height="14.8" fill="#00ff00"/>
<rect x="215.1" y="1441.6" width="14.8" height="14.8" fill="#00ff00"/>
<rect x="220.2" y="1446.3" width="14.8" height="14.8" fill="#00ff00"/>
<rect x="224.8" y="1454.5" width="14.8" height="14.8" fill="#00ff00"/>
<rect x="230.8" y="1463.6" width="14.8" height="14.8" fill="#00ff00"/>
<rect x="239.1" y="1475.6" width="14.8" height="14.8" fill="#00ff00"/>
<rect x="251.1" y="1483.9" width="14.8" height="14.8" fill="#00ff00"/>
<rect x="266.9" y="1492.9" width="14.8" height="14.8" fill="#00ff00"/>
<rect x="287.5" y="1504.2" width="14.8" height="14.8" fill="#00ff00"/>
<rect x="316.3" y="1517.0" width="14.8" height="14.8" fill="#00ff00"/>
<rect x="360.3" y="1527.6" width="14.8" height="14.8" fill="#00ff00"/>
<rect x="433.9" y="1537.1" width="14.8" height="14.8" fill="#00ff00"/>
<rect x="576.8" y="1540.1" width="14.8" height="14.8" fill="#00ff00"/>
<rect x="881.6" y="1540.2" width="14.8" height="14.8" fill="#00ff00"/>
<circle cx="176.2" cy="948.7" r="8" fill="#ff0000"/>
<circle cx="178.4" cy="1092.0" r="8" fill="#ff0000"/>
<circle cx="180.6" cy="1192.2" r="8" fill="#ff0000"/>
<circle cx="182.9" cy="1259.0" r="8" fill="#ff0000"/>
<circle cx="185.3" cy="1304.3" r="8" fill="#ff0000"/>
<circle cx="187.6" cy="1338.4" r="8" fill="#ff0000"/>
<circle cx="189.7" cy="1364.2" r="8" fill="#ff0000"/>
<circle cx="192.3" cy="1380.6" r="8" fill="#ff0000"/>
<circle cx="195.4" cy="1404.4" r="8" fill="#ff0000"/>
<circle cx="198.8" cy="1415.3" r="8" fill="#ff0000"/>
<circle cx="202.3" cy="1423.6" r="8" fill="#ff0000"/>
<circle cx="206.6" cy="1437.9" r="8" fill="#ff0000"/>
<circle cx="210.8" cy="1446.9" r="8" fill="#ff0000"/>
<circle cx="215.9" cy="1455.2" r="8" fill="#ff0000"/>
<circle cx="221.6" cy="1461.9" r="8" fill="#ff0000"/>
<circle cx="228.4" cy="1468.0" r="8" fill="#ff0000"/>
<circle cx="236.7" cy="1476.2" r="8" fill="#ff0000"/>
<circle cx="246.0" cy="1483.0" r="8" fill="#ff0000"/>
<circle cx="258.5" cy="1491.3" r="8" fill="#ff0000"/>
<circle cx="274.3" cy="1498.8" r="8" fill="#ff0000"/>
<circle cx="294.9" cy="1507.9" r="8" fill="#ff0000"/>
<circle cx="323.7" cy="1516.1" r="8" fill="#ff0000"/>
<circle cx="366.9" cy="1528.2" r="8" fill="#ff0000"/>
<circle cx="439.6" cy="1538.8" r="8" fill="#ff0000"/>
<circle cx="578.8" cy="1546.8" r="8" fill="#ff0000"/>
<circle cx="905.0" cy="1549.2" r="8" fill="#ff0000"/>
</g>
<g clip-path="url(#cd)">
<polyline points="1157.9,1191.2 1160.8,1185.9 1163.7,1185.7 1166.6,1193.7 1169.5,1184.0 1171.9,1193.2 1174.3,1183.3 1176.8,1191.3 1179.2,1182.8 1181.6,1176.7 1184.0,1187.3 1186.9,1179.9 1189.8,1181.9 1192.6,1176.3 1195.5,1181.9 1198.4,1170.6 1200.8,1180.7 1203.2,1169.7 1205.7,1176.8 1208.1,1179.8 1210.5,1177.2 1212.9,1168.2 1215.3,1171.5 1217.7,1172.1 1220.2,1170.9 1222.6,1172.2 1225.0,1162.3 1227.4,1159.7 1230.3,1158.6 1233.2,1165.8 1236.1,1162.3 1237.1,1153.5 1238.0,1148.4 1239.0,1154.2 1240.0,1147.0 1240.9,1143.7 1241.9,1147.3 1242.6,1141.2 1243.3,1153.1 1244.1,1147.9 1244.8,1156.5 1245.5,1162.4 1247.7,1148.4 1249.8,1156.6 1252.0,1156.3 1254.1,1142.6 1256.3,1150.6 1258.7,1149.6 1261.1,1143.1 1263.5,1148.1 1266.0,1137.2 1268.4,1144.5 1270.8,1143.2 1271.8,1130.4 1272.9,1136.4 1273.9,1137.6 1274.9,1126.7 1275.9,1133.3 1277.0,1117.5 1278.0,1116.9 1280.1,1120.0 1282.4,1108.9 1284.7,1118.7 1287.0,1105.0 1287.5,1110.1 1288.0,1102.1 1288.6,1104.3 1289.1,1096.1 1289.6,1100.1 1291.1,1102.0 1292.5,1098.9 1294.0,1105.8 1294.7,1104.0 1295.3,1111.2 1296.0,1107.1 1296.7,1110.8 1297.3,1121.3 1298.0,1119.0 1298.7,1128.2 1299.3,1120.3 1300.0,1133.4 1300.2,1124.3 1300.4,1125.1 1300.7,1119.3 1300.9,1119.7 1301.1,1113.9 1301.3,1110.9 1301.5,1111.6 1301.7,1109.3 1301.9,1103.3 1302.2,1101.0 1302.4,1100.7 1302.6,1095.8 1302.8,1095.7 1303.0,1093.4 1303.3,1088.0 1303.5,1087.5 1303.7,1081.9 1303.9,1082.3 1304.1,1076.8 1304.3,1076.1 1304.6,1071.6 1304.8,1071.7 1305.0,1066.9 1305.2,1065.9 1305.4,1061.2 1305.7,1057.8 1305.9,1058.1 1306.1,1048.6 1306.3,1057.3 1306.5,1060.7 1306.7,1062.6 1306.9,1063.6 1307.1,1068.1 1307.3,1071.2 1307.5,1070.7 1307.7,1075.6 1307.9,1077.0 1308.1,1081.3 1308.3,1082.0 1308.5,1087.2 1308.7,1089.2 1308.8,1090.8 1309.0,1093.5 1309.1,1097.3 1309.3,1098.2 1309.4,1102.3 1309.6,1104.4 1309.7,1106.9 1309.9,1110.3 1310.0,1112.1 1310.1,1116.4 1310.3,1119.4 1310.4,1120.4 1310.6,1124.0 1310.7,1125.6 1310.9,1129.4 1311.0,1131.1 1311.2,1135.2 1311.3,1135.5 1311.6,1142.1 1311.9,1143.1 1312.3,1147.2 1312.6,1146.0 1312.9,1152.9 1313.2,1151.0 1313.6,1153.2 1313.9,1156.5 1314.2,1163.3 1316.4,1157.0 1318.6,1170.5 1319.3,1156.7 1320.0,1153.7 1320.8,1162.9 1321.5,1148.5 1325.1,1152.4 1328.7,1160.4 1329.7,1148.4 1330.6,1153.2 1331.6,1151.0 1333.5,1149.6 1335.5,1139.5 1337.4,1145.6 1338.9,1140.5 1340.3,1143.2 1341.8,1146.9 1343.2,1151.7 1345.1,1160.3 1347.1,1152.9 1349.0,1165.1 1349.4,1160.1 1349.7,1153.8 1350.1,1149.8 1350.5,1152.7 1350.8,1149.2 1351.2,1143.4 1351.5,1143.7 1351.9,1137.5 1353.7,1132.3 1355.5,1139.9 1357.3,1127.4 1359.1,1130.8 1359.6,1129.2 1360.1,1130.0 1360.6,1139.2 1361.1,1136.9 1361.5,1137.8 1362.0,1146.4 1362.5,1143.9 1363.0,1148.2 1363.5,1151.4 1363.7,1155.6 1364.0,1156.4 1364.2,1161.5 1364.5,1161.1 1364.7,1166.7 1365.0,1167.3 1365.2,1171.9 1365.4,1172.2 1365.7,1176.7 1365.9,1177.2 1366.2,1182.7 1366.4,1188.6 1367.8,1189.6 1369.2,1183.8 1370.7,1189.5 1372.1,1202.1 1373.5,1191.4 1375.0,1199.1 1376.2,1203.9 1377.3,1193.6 1378.5,1188.9 1379.6,1187.7 1380.8,1192.1 1382.7,1182.4 1384.7,1189.5 1386.6,1183.1 1388.8,1172.6 1391.0,1180.5 1393.2,1175.7 1395.3,1181.2 1395.8,1179.5 1396.4,1186.5 1396.9,1186.1 1397.4,1185.9 1398.0,1191.9 1398.5,1200.2 1399.1,1194.9 1399.6,1203.0 1399.8,1203.2 1399.9,1206.9 1400.1,1208.4 1400.2,1212.6 1400.4,1214.1 1400.5,1217.7 1400.7,1219.8 1400.8,1221.8 1401.0,1226.2 1401.1,1227.4 1401.3,1231.3 1401.4,1234.2 1401.6,1235.0 1401.7,1239.5 1401.9,1241.9 1402.0,1244.9 1402.2,1245.8 1402.3,1248.8 1402.5,1252.7 1403.2,1253.4 1404.0,1261.9 1406.9,1256.8 1409.5,1267.6 1412.1,1261.5 1415.0,1268.3 1417.9,1262.4 1420.8,1261.9 1423.4,1268.5 1426.0,1263.5 1426.3,1257.9 1426.7,1258.3 1427.0,1253.7 1427.3,1252.5 1427.6,1247.2 1427.9,1248.1 1428.3,1245.6 1428.6,1244.0 1429.3,1239.8 1430.1,1232.1 1430.8,1237.0 1431.5,1227.3 1432.3,1229.7 1433.0,1222.7 1433.4,1225.1 1433.8,1231.3 1434.3,1230.7 1434.7,1236.5 1435.1,1234.9 1435.6,1240.4 1436.0,1241.7 1436.4,1246.9 1436.7,1246.1 1436.9,1250.9 1437.2,1254.8 1437.4,1254.3 1437.7,1259.6 1437.9,1262.1 1438.2,1258.9 1439.6,1269.6 1441.1,1273.4 1442.5,1269.4 1444.0,1276.5 1445.5,1274.5 1447.1,1279.8 1448.6,1276.6 1449.9,1280.5 1451.2,1272.9 1452.5,1270.0 1453.8,1265.7 1456.4,1270.5 1459.0,1260.8 1461.0,1259.7 1463.1,1263.5 1465.1,1255.3 1465.8,1259.4 1466.4,1255.2 1467.0,1246.7 1467.7,1243.4 1471.2,1246.4 1471.4,1241.7 1471.5,1239.8 1471.7,1236.6 1471.8,1234.8 1472.0,1230.6 1472.1,1229.2 1472.2,1225.4 1472.4,1224.0 1472.5,1220.1 1472.7,1217.0 1472.8,1214.6 1473.0,1212.7 1473.1,1210.0 1473.3,1201.3 1473.4,1210.0 1473.6,1211.1 1473.7,1215.1 1473.8,1216.3 1474.0,1220.1 1474.1,1221.8 1474.3,1225.4 1474.4,1227.9 1474.5,1229.5 1474.7,1233.2 1474.8,1234.7 1475.0,1238.3 1475.1,1239.8 1475.2,1243.5 1475.4,1245.2 1475.5,1247.2 1475.7,1250.2 1475.9,1252.9 1476.2,1257.0 1476.4,1260.2 1476.6,1260.7 1476.8,1264.8 1477.0,1265.9 1477.2,1270.3 1477.4,1272.8 1477.7,1275.5 1477.9,1275.9 1478.1,1277.4 1478.2,1277.7 1478.4,1273.8 1478.5,1271.1 1478.7,1269.0 1478.8,1267.5 1479.0,1263.8 1479.2,1262.4 1479.3,1258.1 1479.5,1257.1 1479.6,1253.2 1479.8,1251.9 1479.9,1247.9 1479.9,1245.8 1480.0,1243.2 1480.0,1240.1 1480.1,1237.8 1480.1,1235.1 1480.2,1232.4 1480.2,1229.8 1480.3,1227.1 1480.3,1224.3 1480.3,1221.2 1480.4,1218.5 1480.4,1216.1 1480.5,1213.0 1480.5,1210.7 1480.6,1207.7 1480.6,1205.5 1480.7,1202.4 1480.7,1203.8 1480.7,1202.5 1480.7,1205.0 1480.8,1207.9 1480.8,1210.3 1480.8,1213.0 1480.8,1215.5 1480.9,1218.3 1480.9,1220.8 1480.9,1223.7 1480.9,1226.1 1481.0,1228.7 1481.0,1231.6 1481.0,1234.2 1481.0,1236.6 1481.1,1239.4 1481.1,1241.8 1481.1,1244.5 1481.1,1247.4 1481.2,1249.7 1481.2,1252.6 1481.2,1255.1 1481.2,1257.9 1481.2,1260.3 1481.3,1263.1 1481.3,1265.7 1481.3,1268.3 1481.3,1271.2 1481.4,1273.5 1481.4,1276.4 1481.4,1278.8 1481.4,1281.4 1481.5,1284.2 1481.5,1286.8 1481.5,1289.5 1481.5,1292.2 1481.6,1294.8 1481.6,1297.5 1481.6,1300.1 1481.6,1302.7 1481.7,1305.2 1481.7,1308.2 1481.7,1310.6 1481.8,1313.4 1481.8,1315.8 1481.8,1318.8 1481.8,1321.2 1481.9,1324.2 1481.9,1326.8 1481.9,1329.2 1482.0,1332.1 1482.0,1334.5 1482.0,1337.5 1482.0,1340.1 1482.1,1342.6 1482.1,1345.5 1482.1,1347.9 1482.2,1350.8 1482.2,1353.3 1482.2,1356.1 1482.3,1358.8 1482.3,1361.2 1482.3,1363.9 1482.3,1366.7 1482.4,1369.2 1482.4,1372.1 1482.4,1374.8 1482.5,1377.3 1482.5,1380.4 1482.9,1381.9 1483.3,1383.7 1483.6,1389.6 1484.0,1392.6 1484.4,1391.7 1484.8,1396.0 1485.1,1396.0 1485.5,1398.4 1485.9,1407.0 1488.8,1403.0 1489.7,1404.5 1490.6,1397.6 1491.4,1399.7 1492.3,1396.6 1493.2,1388.8 1495.1,1391.3 1497.1,1397.6 1499.0,1394.7 1501.4,1394.1 1503.8,1398.0 1506.2,1390.5 1508.6,1393.9 1511.0,1390.0 1513.4,1392.9 1516.3,1386.3 1519.2,1391.0 1522.1,1385.0 1525.0,1391.1 1527.9,1385.0 1530.3,1387.8 1532.7,1388.8 1535.2,1386.8 1537.6,1380.4 1540.0,1385.7 1542.4,1379.2 1545.3,1379.7 1548.2,1381.3 1551.1,1378.6 1554.0,1375.8 1556.9,1380.2 1559.8,1375.3 1562.7,1379.8 1565.5,1377.6 1568.4,1374.3 1571.3,1377.5 1573.8,1373.8 1576.4,1375.7 1579.0,1371.9 1581.5,1373.6 1582.6,1369.2 1583.7,1365.4 1584.7,1367.1 1585.8,1360.1 1586.9,1362.8 1588.0,1372.0 1589.1,1374.5 1590.2,1372.5 1590.8,1379.2 1591.3,1378.3 1591.9,1384.7 1592.5,1384.7 1593.1,1390.2 1593.6,1389.1 1594.2,1392.4 1594.8,1396.8 1595.3,1397.6 1595.9,1403.5 1596.2,1398.2 1596.4,1396.8 1596.7,1393.1 1596.9,1391.3 1597.2,1389.4 1597.4,1384.7 1597.7,1383.9 1597.9,1379.4 1598.2,1378.6 1598.5,1374.0 1598.7,1373.0 1599.0,1369.8 1599.2,1366.4 1599.5,1364.5 1599.7,1362.5 1600.0,1358.4 1600.2,1356.4 1600.5,1352.8 1600.7,1351.4 1601.0,1348.6 1601.0,1345.6 1601.0,1343.0 1601.0,1340.4 1601.0,1337.8 1601.0,1335.2 1601.0,1332.5 1601.0,1330.0 1601.1,1327.3 1601.1,1324.7 1601.1,1322.1 1601.1,1319.5 1601.1,1316.9 1601.1,1314.3 1601.1,1311.7 1601.1,1309.1 1601.1,1306.5 1601.1,1303.9 1601.1,1301.3 1601.1,1298.6 1601.1,1296.0 1601.1,1293.4 1601.1,1290.8 1601.2,1288.2 1601.2,1285.6 1601.2,1283.0 1601.2,1280.4 1601.2,1277.8 1601.2,1275.2 1601.2,1272.6 1601.2,1269.9 1601.2,1267.4 1601.2,1264.7 1601.2,1262.1 1601.2,1259.5 1601.2,1256.9 1601.2,1254.3 1601.2,1251.7 1601.2,1249.1 1601.3,1246.5 1601.3,1243.9 1601.3,1241.3 1601.3,1238.7 1601.3,1236.1 1601.3,1233.4 1601.3,1230.8 1601.3,1228.2 1601.3,1225.6 1601.3,1223.0 1601.3,1220.4 1601.3,1217.8 1601.3,1215.2 1601.3,1212.6 1601.3,1210.0 1601.4,1207.4 1601.4,1204.7 1601.4,1202.2 1601.4,1199.5 1601.4,1196.9 1601.4,1194.3 1601.4,1191.7 1601.4,1189.1 1601.4,1186.5 1601.4,1183.9 1601.4,1181.3 1601.4,1178.7 1601.4,1176.1 1601.4,1173.4 1601.4,1170.9 1601.5,1168.2 1601.5,1165.6 1601.5,1163.0 1601.5,1160.4 1601.5,1157.8 1601.5,1155.2 1601.5,1152.6 1601.5,1150.0 1601.5,1147.4 1601.5,1144.8 1601.5,1142.1 1601.5,1139.6 1601.5,1136.9 1601.5,1134.3 1601.5,1131.7 1601.6,1129.1 1601.6,1126.5 1601.6,1123.9 1601.6,1121.3 1601.6,1118.7 1601.6,1116.1 1601.6,1113.4 1601.6,1110.9 1601.6,1108.2 1601.6,1105.6 1601.6,1103.0 1601.6,1100.4 1601.6,1097.8 1601.6,1095.2 1601.6,1092.6 1601.6,1090.0 1601.7,1087.4 1601.7,1084.8 1601.7,1082.1 1601.7,1079.6 1601.7,1076.9 1601.7,1074.3 1601.7,1071.7 1601.7,1069.1 1601.7,1066.5 1601.7,1063.9 1601.7,1061.3 1601.7,1058.7 1601.7,1056.1 1601.7,1053.5 1601.7,1050.9 1601.8,1048.2 1601.8,1045.7 1601.8,1043.0 1601.8,1040.4 1601.8,1037.8 1601.8,1035.2 1601.8,1032.6 1601.8,1029.0 1601.8,1032.6 1601.8,1035.2 1601.8,1037.9 1601.8,1040.5 1601.9,1043.1 1601.9,1045.8 1601.9,1048.3 1601.9,1051.0 1601.9,1053.6 1601.9,1056.2 1601.9,1058.9 1601.9,1061.4 1602.0,1064.1 1602.0,1066.7 1602.0,1069.3 1602.0,1071.9 1602.0,1074.6 1602.0,1077.2 1602.0,1079.8 1602.0,1082.4 1602.0,1085.1 1602.1,1087.7 1602.1,1090.3 1602.1,1092.9 1602.1,1095.6 1602.1,1098.1 1602.1,1100.8 1602.1,1103.4 1602.1,1106.0 1602.1,1108.7 1602.2,1111.2 1602.2,1113.9 1602.2,1116.5 1602.2,1119.1 1602.2,1121.8 1602.2,1124.3 1602.2,1127.0 1602.2,1129.6 1602.3,1132.3 1602.3,1134.8 1602.3,1137.5 1602.3,1140.1 1602.3,1142.7 1602.3,1145.4 1602.3,1147.9 1602.3,1150.6 1602.3,1153.2 1602.4,1155.9 1602.4,1158.5 1602.4,1161.0 1602.4,1163.7 1602.4,1166.3 1602.4,1168.9 1602.4,1171.6 1602.4,1174.1 1602.5,1176.8 1602.5,1179.4 1602.5,1182.1 1602.5,1184.6 1602.5,1187.3 1602.5,1189.9 1602.5,1192.6 1602.5,1195.1 1602.5,1197.7 1602.6,1200.4 1602.6,1203.0 1602.6,1205.6 1602.6,1208.2 1602.6,1210.9 1602.6,1213.5 1602.6,1216.1 1602.6,1218.8 1602.7,1221.3 1602.7,1224.0 1602.7,1226.6 1602.7,1229.2 1602.7,1231.9 1602.7,1234.5 1602.7,1237.1 1602.7,1239.7 1602.7,1242.3 1602.8,1245.0 1602.8,1247.6 1602.8,1250.2 1602.8,1252.8 1602.8,1255.4 1602.8,1258.0 1602.8,1260.7 1602.8,1263.3 1602.8,1265.9 1602.9,1268.6 1602.9,1271.1 1602.9,1273.8 1602.9,1276.4 1602.9,1279.0 1602.9,1281.6 1602.9,1284.3 1602.9,1286.9 1603.0,1289.5 1603.0,1292.1 1603.0,1294.7 1603.0,1297.4 1603.0,1300.0 1603.0,1302.7 1603.1,1305.2 1603.1,1307.8 1603.1,1310.5 1603.1,1313.0 1603.2,1315.8 1603.2,1318.3 1603.2,1320.9 1603.3,1323.7 1603.3,1326.2 1603.3,1328.9 1603.3,1331.6 1603.4,1334.0 1603.4,1336.7 1603.4,1339.3 1603.5,1342.0 1603.5,1344.5 1603.5,1347.3 1603.5,1349.8 1603.6,1352.4 1603.6,1355.2 1603.6,1357.8 1603.7,1360.2 1603.7,1362.9 1603.7,1365.5 1603.7,1368.1 1603.8,1370.8 1603.8,1373.5 1603.8,1376.0 1603.8,1378.7 1603.9,1381.2 1603.9,1384.0 1603.9,1386.5 1604.0,1389.1 1604.0,1391.8 1604.0,1394.4 1604.0,1397.1 1604.1,1399.6 1604.1,1402.3 1604.1,1404.9 1604.2,1407.6 1604.2,1410.1 1604.2,1412.9 1604.2,1415.3 1604.3,1418.1 1604.3,1420.5 1604.3,1423.4 1604.4,1425.8 1604.4,1428.5 1604.4,1431.1 1604.4,1433.7 1604.5,1436.4 1604.5,1439.1 1604.8,1441.5 1605.0,1445.8 1607.8,1443.4 1610.6,1444.8 1613.4,1449.3 1616.2,1446.2 1619.0,1450.9 1619.8,1445.4 1620.5,1444.9 1621.3,1439.7 1622.1,1439.1 1622.8,1434.6 1623.6,1435.0 1624.3,1436.8 1625.0,1437.2 1625.7,1443.1 1626.4,1443.2 1627.1,1450.5 1629.7,1444.9 1632.3,1447.8 1634.9,1447.9 1637.5,1447.5 1640.1,1446.2 1642.7,1444.5 1645.3,1445.1 1647.9,1440.2 1650.7,1443.5 1653.4,1442.2 1656.2,1438.9 1659.0,1441.9 1661.7,1441.2 1664.5,1436.9 1667.2,1436.4 1670.0,1440.4 1672.2,1437.4 1674.5,1434.4 1676.7,1434.9 1679.0,1434.5 1681.2,1429.9 1683.5,1431.7 1685.7,1425.6 1688.0,1429.1 1690.2,1423.3 1691.8,1425.4 1693.4,1431.6 1695.0,1431.4 1697.8,1432.5 1700.6,1429.6 1703.3,1432.0 1706.1,1428.5 1708.9,1430.2 1711.7,1427.2 1714.4,1425.5 1717.2,1427.6 1720.0,1428.0 1722.7,1424.0 1725.4,1425.9 1728.1,1422.0 1730.8,1425.4 1733.5,1420.9 1736.3,1424.2 1739.0,1419.0 1741.7,1422.0 1744.4,1417.2 1747.1,1421.1 1749.8,1416.6 1751.0,1419.4 1752.1,1425.1 1753.3,1425.4 1753.7,1429.2 1754.1,1430.1 1754.5,1434.9 1754.8,1436.1 1755.2,1439.6 1755.6,1442.3 1756.0,1443.9 1756.4,1446.0 1756.8,1450.6 1757.2,1451.2 1757.6,1455.7 1757.9,1456.7 1758.3,1460.9 1758.7,1464.2 1759.1,1463.8 1759.5,1463.3 1759.9,1459.4 1760.3,1457.9 1760.7,1455.4 1761.0,1452.0 1761.4,1449.4 1761.8,1444.5 1762.2,1443.5 1762.6,1439.5 1762.6,1437.5 1762.7,1434.6 1762.7,1432.1 1762.8,1429.4 1762.8,1426.9 1762.9,1424.0 1762.9,1421.6 1762.9,1418.8 1763.0,1416.3 1763.0,1413.5 1763.1,1410.8 1763.1,1408.4 1763.2,1405.6 1763.2,1403.1 1763.3,1400.3 1763.3,1397.8 1763.3,1395.1 1763.4,1392.5 1763.4,1389.9 1763.5,1387.1 1763.5,1384.6 1763.6,1381.8 1763.6,1379.2 1763.6,1376.6 1763.7,1373.9 1763.7,1371.4 1763.8,1368.8 1763.8,1366.0 1763.9,1363.5 1763.9,1360.6 1763.9,1358.2 1764.0,1355.4 1764.0,1353.0 1764.1,1350.1 1764.1,1347.6 1764.2,1344.8 1764.2,1342.4 1764.2,1339.5 1764.3,1337.1 1764.3,1334.4 1764.4,1331.6 1764.4,1329.1 1764.5,1326.4 1764.5,1323.9 1764.6,1321.1 1764.6,1318.6 1764.6,1315.7 1764.7,1313.3 1764.7,1310.5 1764.8,1308.0 1764.8,1305.2 1764.9,1302.7 1764.9,1299.9 1764.9,1297.4 1764.9,1294.8 1765.0,1292.1 1765.0,1289.6 1765.0,1286.9 1765.0,1284.4 1765.0,1281.7 1765.0,1279.2 1765.1,1276.5 1765.1,1273.9 1765.1,1271.3 1765.1,1268.7 1765.1,1266.0 1765.1,1263.5 1765.2,1260.9 1765.2,1258.2 1765.2,1255.6 1765.2,1253.1 1765.2,1250.4 1765.3,1247.9 1765.3,1245.2 1765.3,1242.5 1765.3,1240.0 1765.3,1237.3 1765.3,1234.8 1765.4,1232.2 1765.4,1229.6 1765.4,1226.9 1765.4,1224.3 1765.4,1221.7 1765.4,1219.1 1765.5,1216.5 1765.5,1213.8 1765.5,1211.3 1765.5,1208.6 1765.5,1206.1 1765.6,1203.4 1765.6,1200.9 1765.6,1198.2 1765.6,1195.6 1765.6,1193.0 1765.6,1190.4 1765.7,1187.7 1765.7,1185.2 1765.7,1182.5 1765.7,1180.0 1765.7,1177.3 1765.8,1174.7 1765.8,1172.1 1765.8,1169.5 1765.8,1166.9 1765.8,1164.2 1765.8,1161.6 1765.9,1159.1 1765.9,1156.4 1765.9,1153.9 1765.9,1151.2 1765.9,1148.7 1765.9,1146.0 1766.0,1143.5 1766.0,1140.8 1766.0,1138.1 1766.0,1135.5 1766.0,1133.0 1766.1,1130.3 1766.1,1127.8 1766.1,1125.1 1766.1,1122.5 1766.1,1119.9 1766.1,1117.3 1766.2,1114.7 1766.2,1112.1 1766.2,1109.4 1766.2,1106.8 1766.2,1104.3 1766.2,1101.7 1766.3,1099.0 1766.3,1096.4 1766.3,1093.2 1766.3,1096.4 1766.3,1099.0 1766.3,1101.7 1766.4,1104.2 1766.4,1106.9 1766.4,1109.5 1766.4,1112.1 1766.4,1114.6 1766.4,1117.3 1766.5,1119.9 1766.5,1122.5 1766.5,1125.2 1766.5,1127.7 1766.5,1130.4 1766.5,1132.9 1766.6,1135.5 1766.6,1138.2 1766.6,1140.7 1766.6,1143.4 1766.6,1146.0 1766.6,1148.6 1766.7,1151.2 1766.7,1153.9 1766.7,1156.5 1766.7,1159.0 1766.7,1161.7 1766.7,1164.3 1766.8,1166.9 1766.8,1169.5 1766.8,1172.1 1766.8,1174.7 1766.8,1177.3 1766.8,1179.9 1766.9,1182.6 1766.9,1185.1 1766.9,1187.7 1766.9,1190.4 1766.9,1192.9 1766.9,1195.5 1767.0,1198.2 1767.0,1200.8 1767.0,1203.5 1767.0,1206.0 1767.0,1208.7 1767.0,1211.3 1767.1,1213.8 1767.1,1216.5 1767.1,1219.1 1767.1,1221.7 1767.1,1224.3 1767.1,1227.0 1767.2,1229.6 1767.2,1232.1 1767.2,1234.7 1767.2,1237.3 1767.2,1240.0 1767.2,1242.5 1767.3,1245.2 1767.3,1247.8 1767.3,1250.4 1767.3,1253.0 1767.3,1255.6 1767.3,1258.2 1767.4,1260.8 1767.4,1263.5 1767.4,1266.0 1767.4,1268.7 1767.4,1271.3 1767.4,1273.9 1767.5,1276.5 1767.5,1279.1 1767.5,1281.8 1767.5,1284.3 1767.5,1287.0 1767.5,1289.5 1767.6,1292.1 1767.6,1294.8 1767.6,1297.4 1767.6,1300.0 1767.6,1302.6 1767.6,1305.2 1767.6,1307.9 1767.6,1310.4 1767.6,1313.1 1767.6,1315.7 1767.7,1318.3 1767.7,1320.9 1767.7,1323.5 1767.7,1326.1 1767.7,1328.7 1767.7,1331.3 1767.7,1334.0 1767.7,1336.6 1767.7,1339.2 1767.7,1341.8 1767.7,1344.4 1767.7,1347.0 1767.7,1349.6 1767.7,1352.2 1767.8,1354.8 1767.8,1357.4 1767.8,1360.0 1767.8,1362.7 1767.8,1365.3 1767.8,1367.9 1767.8,1370.5 1767.8,1373.1 1767.8,1375.7 1767.8,1378.3 1767.8,1380.9 1767.8,1383.5 1767.8,1386.2 1767.8,1388.8 1767.9,1391.4 1767.9,1394.0 1767.9,1396.6 1767.9,1399.2 1767.9,1401.8 1767.9,1404.4 1767.9,1407.1 1767.9,1409.6 1767.9,1412.3 1767.9,1414.9 1767.9,1417.5 1767.9,1420.1 1767.9,1422.7 1767.9,1425.3 1768.0,1427.9 1768.0,1430.6 1768.0,1433.2 1768.0,1435.7 1768.0,1438.4 1768.0,1441.0 1768.0,1443.6 1768.0,1446.2 1768.0,1448.8 1768.0,1451.4 1768.0,1454.0 1768.0,1456.7 1768.0,1459.2 1768.0,1461.9 1768.1,1464.5 1768.1,1467.1 1768.1,1469.7 1768.1,1472.3 1768.1,1474.9 1768.1,1477.5 1768.1,1480.2 1768.1,1482.7 1768.1,1485.4 1768.1,1488.0 1768.1,1490.6 1768.1,1493.2 1768.1,1495.8 1768.1,1498.4 1768.2,1501.0 1768.2,1503.6 1768.2,1506.3 1768.2,1508.8 1768.2,1511.5 1768.2,1514.1 1768.2,1519.1 1770.1,1517.6 1771.9,1523.8 1774.8,1519.7 1777.7,1520.7 1780.7,1524.9 1783.6,1521.0 1786.5,1522.8 1789.2,1525.7 1791.9,1526.0 1794.6,1522.4 1797.3,1523.6 1800.0,1524.8 1802.7,1524.7 1805.4,1519.7 1808.1,1523.4 1810.8,1520.3 1813.5,1522.3 1816.2,1522.3 1818.9,1519.1 1821.6,1522.7 1824.3,1519.8 1827.0,1522.7 1829.7,1518.2 1832.4,1523.0 1835.1,1521.5 1837.8,1521.9 1840.5,1522.0 1843.2,1518.5 1845.9,1520.8 1848.6,1516.7 1851.3,1520.2 1854.0,1517.4 1856.7,1519.9 1859.4,1516.7 1862.0,1518.2 1864.6,1515.6 1867.2,1515.0 1869.9,1517.9 1872.5,1514.7 1875.1,1515.1 1877.7,1517.4 1879.5,1520.2 1881.3,1519.1 1883.0,1518.1 1884.7,1519.3 1886.4,1513.4 1888.1,1511.2 1889.8,1511.1 1893.5,1505.0 1894.5,1510.9 1895.4,1514.2 1896.4,1513.6 1897.3,1518.5 1898.3,1517.9 1900.8,1517.9 1903.2,1517.8 1905.2,1517.3 1907.3,1522.2 1909.3,1520.7 1911.7,1523.5 1914.2,1518.6 1916.6,1521.2 1916.8,1516.0 1916.9,1513.2 1917.0,1509.8 1917.2,1507.7 1917.4,1510.2 1917.6,1512.0 1917.7,1515.6 1917.9,1517.5 1918.1,1520.9 1918.3,1522.8 1918.5,1526.3 1918.6,1528.0 1918.8,1531.4 1919.0,1532.4 1920.8,1538.0 1922.7,1538.4 1925.9,1542.3 1929.2,1539.1 1932.4,1539.5 1934.5,1541.9 1936.7,1540.2 1938.8,1534.6 1940.9,1536.1 1944.6,1536.1 1947.0,1541.7 1949.4,1539.2 1951.8,1544.4 1953.0,1542.6 1954.3,1550.0 1955.5,1550.8" fill="none" stroke="#ff0000" stroke-width="4.3" stroke-linejoin="round" stroke-linecap="round"/>
<polyline points="1157.6,1060.7 1158.6,1053.0 1159.6,1057.7 1160.7,1049.4 1161.7,1056.2 1162.7,1042.8 1163.7,1050.1 1164.9,1043.6 1166.2,1056.4 1167.4,1046.5 1168.7,1060.2 1169.9,1053.8 1171.2,1058.4 1172.4,1068.9 1173.9,1057.9 1175.3,1050.5 1176.8,1058.4 1178.2,1048.8 1179.6,1051.7 1181.1,1045.1 1183.2,1054.5 1185.4,1046.5 1187.5,1056.0 1189.7,1052.1 1190.8,1057.9 1191.9,1053.6 1193.0,1042.5 1194.1,1048.5 1195.1,1038.0 1196.2,1042.4 1197.3,1039.7 1198.4,1026.9 1201.3,1035.4 1204.2,1025.6 1207.1,1033.3 1210.0,1024.9 1212.9,1036.4 1215.8,1030.0 1216.3,1033.6 1216.9,1025.0 1217.4,1027.1 1217.9,1017.9 1218.5,1024.4 1219.0,1012.8 1219.6,1016.3 1220.1,1005.5 1222.1,1013.2 1224.0,1011.9 1226.0,1005.4 1228.0,1010.0 1230.3,1014.4 1232.6,1008.2 1234.9,1017.8 1235.9,1014.2 1237.0,1002.1 1238.0,1008.6 1239.1,994.2 1240.1,996.6 1240.2,996.0 1240.2,992.3 1240.3,990.7 1240.4,987.5 1240.4,985.3 1240.5,982.0 1240.5,980.4 1240.6,977.0 1240.7,975.2 1240.7,971.7 1240.8,968.9 1240.9,966.5 1240.9,964.8 1241.0,962.0 1241.1,958.8 1241.1,956.8 1241.2,953.4 1241.3,950.8 1241.3,948.1 1241.4,946.5 1241.5,943.3 1241.5,941.1 1241.6,938.7 1241.6,935.2 1241.7,933.4 1241.8,930.1 1241.8,928.1 1241.9,920.0 1242.0,928.0 1242.1,929.7 1242.2,932.4 1242.3,935.2 1242.4,938.7 1242.5,940.5 1242.6,943.9 1242.7,945.6 1242.8,948.4 1242.9,951.6 1243.0,953.4 1243.1,957.3 1243.2,958.4 1243.3,962.2 1243.4,963.5 1243.5,967.4 1243.6,970.2 1243.7,971.5 1243.8,974.2 1243.9,977.9 1244.0,980.5 1244.1,982.1 1244.2,985.5 1244.3,987.3 1244.4,990.6 1244.5,991.3 1245.0,996.6 1245.5,1000.1 1246.0,1003.9 1246.4,1000.1 1246.9,1004.7 1247.4,1012.2 1247.9,1016.8 1248.8,1013.0 1249.6,1003.7 1250.5,1007.3 1251.4,997.4 1252.3,996.0 1253.1,998.5 1254.0,997.2 1256.6,986.0 1259.2,985.2 1261.0,994.1 1262.7,983.8 1264.5,977.3 1266.2,987.0 1266.9,980.6 1267.6,988.0 1268.3,983.8 1269.1,993.3 1269.8,991.0 1270.5,991.6 1271.1,997.6 1271.8,988.0 1272.4,992.0 1273.0,988.7 1273.6,979.8 1274.3,982.7 1274.9,973.0 1276.6,977.9 1278.4,976.8 1280.1,975.6 1281.0,972.4 1281.8,961.0 1282.7,967.0 1283.6,960.8 1284.4,954.0 1285.3,954.7 1287.0,946.7 1288.7,951.2 1289.3,938.4 1289.9,936.7 1290.5,937.1 1291.0,940.4 1291.6,931.1 1292.2,926.6 1292.8,935.3 1293.4,934.2 1294.0,943.1 1294.5,944.9 1295.1,945.9 1295.7,942.1 1296.0,950.9 1296.4,950.0 1296.8,956.3 1297.1,958.9 1297.5,957.5 1297.8,958.6 1298.2,965.4 1298.5,964.9 1298.9,970.7 1299.2,967.3 1299.5,971.1 1299.8,968.9 1300.0,962.9 1300.3,963.7 1300.6,958.2 1300.9,958.2 1301.2,952.6 1301.5,952.5 1301.8,949.8 1302.0,944.6 1302.3,944.7 1302.6,939.9 1302.7,938.8 1302.9,936.1 1303.0,932.1 1303.1,931.1 1303.3,927.5 1303.4,925.5 1303.5,921.5 1303.7,919.1 1303.8,918.0 1303.9,913.7 1304.1,912.6 1304.2,908.7 1304.4,907.6 1304.5,905.0 1304.6,902.3 1304.8,898.5 1304.9,897.5 1305.0,893.2 1305.2,892.0 1305.3,883.8 1308.7,892.1 1308.9,891.1 1309.0,893.0 1309.2,898.2 1309.3,900.0 1309.5,903.0 1309.7,904.4 1309.8,908.0 1310.0,910.0 1310.2,913.6 1310.3,914.6 1310.5,919.4 1310.7,919.9 1310.8,924.5 1311.0,928.0 1311.1,930.3 1311.3,931.7 1311.4,934.1 1311.5,938.1 1311.6,939.5 1311.7,942.5 1311.8,945.7 1311.9,948.8 1312.0,950.2 1312.1,953.8 1312.2,955.5 1312.3,959.4 1312.4,960.7 1312.5,963.1 1312.6,967.1 1312.7,969.7 1312.8,972.1 1312.9,975.1 1313.0,976.3 1313.0,980.3 1313.1,983.2 1313.2,984.5 1313.3,988.6 1313.4,990.0 1313.5,993.3 1313.6,995.6 1313.7,998.2 1313.8,1001.3 1313.9,1004.3 1314.0,1005.6 1314.1,1008.2 1314.2,1012.1 1314.3,1014.0 1314.4,1017.6 1314.5,1020.4 1314.6,1022.7 1314.7,1025.4 1314.8,1026.1 1315.5,1027.6 1316.2,1018.7 1316.9,1022.0 1317.6,1012.9 1318.3,1020.7 1319.5,1019.7 1320.6,1022.7 1321.8,1024.1 1323.5,1013.5 1325.3,1023.2 1327.0,1013.4 1327.4,1011.9 1327.9,1012.4 1328.3,1010.6 1328.7,1008.3 1329.2,998.9 1329.6,1001.6 1332.7,1007.1 1335.7,997.5 1336.6,1001.4 1337.4,994.1 1338.3,999.6 1339.1,994.7 1340.0,983.7 1340.3,987.9 1340.7,990.2 1341.0,997.6 1341.4,996.3 1341.8,1001.8 1342.1,1001.7 1342.5,1008.1 1342.8,1005.5 1343.2,1013.1 1343.5,1010.2 1344.2,1017.2 1344.9,1013.0 1345.7,1004.0 1346.4,1005.4 1347.1,996.6 1347.8,1000.8 1348.8,991.2 1349.9,990.2 1350.9,996.4 1352.0,981.7 1353.0,986.4 1357.4,986.7 1359.4,987.0 1361.4,982.6 1363.4,995.6 1363.5,991.7 1363.6,995.0 1363.7,998.1 1363.8,999.3 1364.0,1003.3 1364.1,1004.7 1364.2,1008.5 1364.3,1010.0 1364.4,1012.7 1364.5,1015.8 1364.6,1017.7 1364.7,1021.6 1364.8,1023.9 1365.0,1025.6 1365.1,1029.3 1365.2,1031.3 1365.3,1032.8 1365.4,1036.6 1365.5,1038.0 1365.6,1042.3 1365.7,1043.4 1365.8,1047.4 1365.9,1048.5 1366.1,1052.9 1366.2,1053.6 1366.3,1056.2 1366.4,1060.2 1366.5,1056.0 1367.5,1065.1 1368.5,1054.9 1369.4,1054.7 1370.4,1043.6 1371.1,1058.1 1371.8,1058.7 1372.5,1054.4 1373.2,1062.9 1373.9,1066.4 1375.6,1061.7 1377.4,1075.9 1379.1,1069.7 1379.5,1071.1 1380.0,1069.4 1380.4,1063.3 1380.8,1063.7 1381.3,1058.8 1381.7,1059.9 1382.2,1055.4 1382.6,1048.6 1383.9,1052.7 1385.2,1043.0 1386.5,1045.9 1387.8,1034.9 1390.8,1047.1 1393.8,1044.4 1394.1,1040.8 1394.5,1042.3 1394.8,1047.9 1395.1,1051.5 1395.4,1051.5 1395.8,1053.3 1396.1,1058.7 1396.4,1063.6 1397.4,1061.0 1398.5,1069.8 1399.5,1066.2 1399.6,1071.2 1399.7,1073.1 1399.8,1076.2 1399.9,1078.0 1400.0,1082.0 1400.1,1083.7 1400.2,1086.9 1400.3,1089.6 1400.4,1092.6 1400.5,1094.9 1400.6,1098.1 1400.7,1100.6 1400.8,1102.4 1400.9,1105.0 1401.0,1108.5 1401.1,1110.4 1401.2,1113.0 1401.3,1116.7 1401.4,1118.5 1401.5,1122.1 1401.6,1124.0 1401.7,1127.5 1401.8,1128.9 1402.0,1131.6 1402.1,1135.4 1402.3,1136.8 1402.4,1140.6 1402.6,1141.5 1402.7,1145.8 1402.8,1148.7 1403.0,1149.4 1403.1,1153.9 1403.3,1155.9 1403.4,1154.5 1405.6,1163.7 1407.8,1157.6 1408.7,1165.5 1409.5,1163.0 1410.4,1166.5 1411.2,1174.4 1412.1,1170.5 1413.1,1177.8 1414.2,1167.1 1415.2,1168.4 1416.3,1159.8 1417.3,1163.5 1419.0,1158.6 1420.8,1170.2 1422.5,1166.2 1423.6,1170.0 1424.7,1161.1 1425.8,1158.7 1426.9,1160.8 1427.2,1157.5 1427.6,1154.5 1427.9,1149.7 1428.2,1148.9 1428.5,1146.2 1428.8,1141.3 1429.2,1138.5 1429.5,1138.1 1430.2,1132.7 1430.9,1133.1 1431.6,1131.0 1432.3,1124.4 1433.0,1127.2 1433.7,1127.4 1434.4,1132.8 1435.0,1128.6 1435.7,1135.9 1436.4,1134.5 1436.6,1139.2 1436.8,1143.6 1437.1,1145.1 1437.3,1147.8 1437.5,1152.1 1437.7,1154.8 1437.9,1155.3 1438.1,1160.2 1438.3,1163.5 1438.6,1164.0 1438.8,1168.8 1439.0,1166.3 1440.2,1170.3 1441.3,1172.0 1442.5,1181.2 1442.9,1179.0 1443.4,1185.5 1443.8,1183.8 1444.2,1191.7 1444.7,1189.5 1445.1,1197.1 1445.6,1196.3 1446.0,1198.2 1446.7,1201.2 1447.4,1191.4 1448.2,1194.3 1448.9,1185.9 1449.6,1181.9 1450.3,1186.5 1451.4,1189.2 1452.5,1190.8 1453.6,1186.6 1454.7,1196.3 1455.1,1189.3 1455.6,1188.3 1456.0,1187.9 1456.4,1183.5 1456.9,1184.0 1457.3,1176.8 1457.7,1178.0 1458.2,1175.2 1458.6,1169.1 1459.0,1166.1 1459.5,1168.5 1459.9,1166.3 1462.1,1163.0 1464.2,1171.0 1464.5,1165.0 1464.8,1161.8 1465.1,1162.0 1465.4,1157.4 1465.7,1156.7 1466.0,1149.5 1467.7,1154.3 1469.4,1150.4 1469.6,1143.9 1469.7,1142.9 1469.9,1139.0 1470.1,1138.2 1470.2,1134.0 1470.4,1132.1 1470.6,1128.4 1470.7,1125.9 1470.9,1123.4 1471.1,1122.2 1471.2,1118.1 1471.4,1116.7 1471.6,1113.0 1471.7,1111.5 1471.9,1107.6 1472.1,1104.7 1472.2,1103.7 1472.4,1099.4 1472.6,1098.2 1472.7,1094.3 1472.9,1095.7 1473.0,1093.8 1473.2,1096.6 1473.3,1100.7 1473.4,1101.8 1473.6,1104.9 1473.7,1106.9 1473.8,1110.8 1473.9,1112.1 1474.1,1115.7 1474.2,1117.6 1474.3,1121.6 1474.5,1123.1 1474.6,1125.1 1474.7,1127.7 1474.8,1130.5 1475.0,1133.6 1475.1,1136.2 1475.2,1139.6 1475.4,1141.2 1475.5,1144.6 1475.6,1146.7 1475.8,1150.2 1475.9,1152.1 1476.0,1155.8 1476.2,1157.0 1476.3,1161.2 1476.4,1162.3 1476.5,1166.5 1476.7,1167.6 1476.8,1170.3 1476.9,1173.4 1477.1,1177.3 1477.2,1179.8 1477.3,1181.7 1477.4,1184.8 1477.6,1187.0 1477.7,1190.3 1477.8,1192.0 1478.0,1195.7 1478.1,1199.3 1478.2,1194.7 1478.4,1193.3 1478.5,1190.3 1478.6,1187.0 1478.8,1185.1 1478.9,1181.2 1479.0,1179.7 1479.1,1176.2 1479.3,1173.4 1479.4,1171.9 1479.5,1169.3 1479.7,1165.2 1479.8,1163.8 1479.9,1160.2 1480.0,1158.3 1480.2,1154.2 1480.3,1153.1 1480.4,1148.9 1480.6,1147.3 1480.7,1144.0 1480.8,1141.3 1480.9,1139.1 1481.0,1135.9 1481.0,1133.5 1481.1,1131.5 1481.2,1128.5 1481.3,1125.1 1481.4,1122.7 1481.5,1120.6 1481.6,1117.2 1481.6,1115.7 1481.7,1111.9 1481.8,1110.3 1481.9,1106.9 1482.0,1104.7 1482.1,1101.7 1482.2,1099.5 1482.2,1096.3 1482.3,1094.1 1482.4,1091.5 1482.5,1085.7 1482.6,1091.1 1482.7,1093.7 1482.7,1096.2 1482.8,1098.8 1482.9,1102.3 1483.0,1104.3 1483.1,1106.9 1483.1,1109.9 1483.2,1112.0 1483.3,1115.6 1483.4,1117.4 1483.5,1120.6 1483.6,1122.7 1483.6,1125.4 1483.7,1128.9 1483.8,1130.8 1483.9,1133.1 1484.0,1136.6 1484.0,1139.2 1484.1,1141.4 1484.2,1144.4 1484.2,1146.7 1484.2,1149.5 1484.3,1152.0 1484.3,1154.7 1484.3,1157.1 1484.3,1159.7 1484.4,1162.5 1484.4,1165.0 1484.4,1167.5 1484.4,1170.4 1484.4,1172.7 1484.5,1175.6 1484.5,1178.0 1484.5,1180.6 1484.5,1183.4 1484.6,1186.0 1484.6,1188.4 1484.6,1191.0 1484.6,1193.8 1484.7,1196.2 1484.7,1199.0 1484.7,1201.6 1484.7,1204.0 1484.7,1206.8 1484.8,1209.2 1484.8,1212.0 1484.8,1214.5 1484.8,1217.0 1484.9,1219.8 1484.9,1222.2 1484.9,1224.8 1484.9,1227.6 1484.9,1230.3 1485.0,1232.7 1485.0,1235.2 1485.0,1238.0 1485.0,1240.5 1485.1,1243.3 1485.1,1245.8 1485.1,1248.6 1485.1,1251.3 1485.2,1253.6 1485.2,1256.2 1485.2,1259.2 1485.3,1261.8 1485.3,1264.2 1485.3,1266.9 1485.4,1269.8 1485.4,1272.4 1485.4,1275.1 1485.5,1277.6 1485.5,1280.4 1485.5,1282.8 1485.6,1285.8 1485.6,1288.4 1485.6,1290.9 1485.7,1293.7 1485.7,1296.3 1485.7,1298.8 1485.8,1301.4 1485.8,1304.3 1485.8,1306.7 1485.9,1309.6 1485.9,1312.0 1485.9,1315.0 1486.0,1317.3 1486.0,1320.3 1486.0,1322.7 1486.1,1325.6 1486.1,1328.0 1486.1,1330.8 1486.2,1333.5 1486.2,1336.0 1486.2,1338.8 1486.3,1341.3 1486.3,1344.1 1486.3,1346.6 1486.4,1349.5 1486.4,1352.0 1486.4,1354.8 1486.5,1357.5 1486.5,1359.2 1487.0,1363.4 1487.4,1363.2 1487.9,1369.1 1488.3,1369.8 1488.8,1374.4 1490.3,1378.0 1492.5,1372.8 1494.7,1373.2 1496.8,1368.7 1499.0,1371.4 1501.9,1365.4 1504.8,1369.1 1507.6,1365.3 1510.5,1363.6 1513.4,1368.1 1516.3,1367.7 1519.2,1362.7 1522.1,1363.9 1525.0,1365.0 1527.9,1358.5 1530.3,1362.6 1532.7,1358.5 1535.2,1359.0 1537.6,1355.6 1540.0,1354.7 1542.4,1358.0 1544.8,1351.0 1547.2,1350.0 1549.7,1353.7 1552.1,1348.8 1554.5,1353.2 1556.9,1347.3 1559.3,1346.9 1561.7,1346.1 1564.1,1346.8 1566.5,1343.9 1568.9,1345.8 1571.3,1345.4 1573.8,1342.7 1576.4,1342.1 1579.0,1336.4 1581.5,1339.5 1583.2,1333.5 1584.8,1335.4 1586.5,1328.6 1587.1,1329.9 1587.8,1333.9 1588.4,1336.2 1589.0,1341.2 1589.7,1341.5 1590.3,1346.8 1591.0,1346.9 1591.6,1352.8 1592.1,1353.4 1592.6,1357.6 1593.0,1358.8 1593.5,1361.5 1594.0,1364.3 1594.5,1368.4 1594.9,1369.7 1595.4,1374.7 1595.9,1376.6 1596.1,1372.5 1596.3,1370.9 1596.6,1368.1 1596.8,1364.3 1597.0,1362.2 1597.2,1360.0 1597.4,1356.1 1597.7,1353.3 1597.9,1351.8 1598.1,1347.9 1598.1,1345.7 1598.2,1343.1 1598.2,1340.5 1598.3,1337.5 1598.3,1335.2 1598.3,1332.2 1598.4,1329.9 1598.4,1327.3 1598.5,1324.6 1598.5,1321.8 1598.5,1319.2 1598.6,1316.7 1598.6,1313.9 1598.7,1311.4 1598.7,1308.6 1598.7,1306.1 1598.8,1303.6 1598.8,1300.7 1598.9,1298.1 1598.9,1295.6 1598.9,1293.0 1599.0,1290.1 1599.0,1287.7 1599.1,1284.9 1599.1,1282.5 1599.1,1279.6 1599.2,1277.2 1599.2,1274.4 1599.3,1271.9 1599.3,1269.3 1599.3,1266.4 1599.4,1263.9 1599.4,1261.4 1599.5,1258.6 1599.5,1256.2 1599.5,1253.5 1599.6,1250.8 1599.6,1248.0 1599.7,1245.6 1599.7,1242.7 1599.7,1240.1 1599.8,1237.7 1599.8,1235.1 1599.9,1232.3 1599.9,1229.9 1599.9,1227.0 1600.0,1224.3 1600.0,1221.9 1600.1,1219.2 1600.1,1216.5 1600.1,1214.0 1600.2,1211.2 1600.2,1208.8 1600.3,1205.9 1600.3,1203.3 1600.3,1200.9 1600.3,1198.1 1600.4,1195.5 1600.4,1193.0 1600.4,1190.3 1600.4,1187.8 1600.4,1185.1 1600.5,1182.6 1600.5,1179.9 1600.5,1177.4 1600.5,1174.6 1600.6,1172.1 1600.6,1169.6 1600.6,1166.9 1600.6,1164.2 1600.6,1161.7 1600.7,1159.1 1600.7,1156.4 1600.7,1153.8 1600.7,1151.3 1600.7,1148.6 1600.8,1146.0 1600.8,1143.4 1600.8,1140.7 1600.8,1138.3 1600.8,1135.5 1600.9,1132.9 1600.9,1130.4 1600.9,1127.8 1600.9,1125.1 1601.0,1122.5 1601.0,1120.0 1601.0,1117.3 1601.0,1114.8 1601.0,1112.1 1601.1,1109.6 1601.1,1106.9 1601.1,1104.3 1601.1,1101.6 1601.1,1099.0 1601.2,1096.4 1601.2,1093.8 1601.2,1091.3 1601.2,1088.6 1601.3,1086.0 1601.3,1083.3 1601.3,1080.8 1601.3,1078.2 1601.3,1075.6 1601.4,1073.0 1601.4,1070.4 1601.4,1067.8 1601.4,1065.1 1601.4,1062.6 1601.5,1060.0 1601.5,1057.3 1601.5,1054.7 1601.5,1052.2 1601.5,1049.4 1601.6,1046.9 1601.6,1044.2 1601.6,1041.7 1601.6,1039.1 1601.7,1036.5 1601.7,1033.8 1601.7,1031.2 1601.7,1028.7 1601.7,1026.0 1601.8,1023.4 1601.8,1020.8 1601.8,1019.1 1601.8,1020.7 1601.9,1023.6 1601.9,1026.0 1602.0,1028.7 1602.0,1031.4 1602.0,1034.1 1602.1,1036.6 1602.1,1039.2 1602.1,1042.0 1602.2,1044.5 1602.2,1047.3 1602.3,1049.9 1602.3,1052.4 1602.3,1055.2 1602.4,1057.8 1602.4,1060.3 1602.5,1063.1 1602.5,1065.6 1602.5,1068.4 1602.6,1071.0 1602.6,1073.6 1602.7,1076.4 1602.7,1078.8 1602.7,1081.6 1602.8,1084.1 1602.8,1086.8 1602.8,1089.4 1602.9,1092.1 1602.9,1094.6 1603.0,1097.4 1603.0,1099.9 1603.0,1102.6 1603.0,1105.3 1603.0,1107.9 1603.1,1110.5 1603.1,1113.1 1603.1,1115.8 1603.1,1118.4 1603.1,1121.0 1603.1,1123.7 1603.1,1126.4 1603.1,1129.0 1603.2,1131.6 1603.2,1134.2 1603.2,1136.8 1603.2,1139.5 1603.2,1142.1 1603.2,1144.7 1603.2,1147.4 1603.2,1150.0 1603.3,1152.6 1603.3,1155.3 1603.3,1157.9 1603.3,1160.5 1603.3,1163.1 1603.3,1165.8 1603.3,1168.4 1603.4,1171.0 1603.4,1173.7 1603.4,1176.3 1603.4,1178.9 1603.4,1181.6 1603.4,1184.2 1603.4,1186.9 1603.4,1189.5 1603.5,1192.1 1603.5,1194.8 1603.5,1197.3 1603.5,1200.0 1603.5,1202.6 1603.5,1205.2 1603.5,1207.9 1603.6,1210.6 1603.6,1213.1 1603.6,1215.8 1603.6,1218.4 1603.6,1221.0 1603.6,1223.7 1603.6,1226.3 1603.6,1229.0 1603.7,1231.6 1603.7,1234.2 1603.7,1236.8 1603.7,1239.4 1603.7,1242.1 1603.7,1244.7 1603.7,1247.3 1603.8,1250.0 1603.8,1252.6 1603.8,1255.3 1603.8,1257.9 1603.8,1260.5 1603.8,1263.1 1603.8,1265.8 1603.8,1268.4 1603.9,1271.0 1603.9,1273.7 1603.9,1276.3 1603.9,1279.0 1603.9,1281.6 1603.9,1284.2 1603.9,1286.8 1603.9,1289.5 1604.0,1292.1 1604.0,1294.7 1604.0,1297.4 1604.0,1300.0 1604.0,1302.7 1604.0,1305.3 1604.1,1308.0 1604.1,1310.5 1604.1,1313.3 1604.1,1315.8 1604.2,1318.5 1604.2,1321.2 1604.2,1323.8 1604.2,1326.5 1604.2,1329.1 1604.3,1331.7 1604.3,1334.3 1604.3,1337.1 1604.3,1339.6 1604.3,1342.2 1604.4,1344.9 1604.4,1347.6 1604.4,1350.2 1604.4,1352.8 1604.5,1355.5 1604.5,1358.1 1604.5,1360.8 1604.5,1363.4 1604.5,1366.1 1604.6,1368.7 1604.6,1371.4 1604.6,1374.0 1604.6,1376.6 1604.7,1379.4 1604.7,1381.9 1604.7,1384.6 1604.7,1387.2 1604.7,1389.9 1604.8,1392.5 1604.8,1395.2 1604.8,1397.8 1604.8,1400.5 1604.8,1403.1 1604.9,1405.8 1604.9,1408.4 1604.9,1411.1 1604.9,1413.6 1605.0,1416.3 1605.0,1418.9 1605.0,1423.3 1606.2,1423.3 1607.3,1429.4 1608.5,1428.8 1610.4,1430.7 1612.4,1431.5 1614.3,1433.0 1617.5,1435.7 1620.7,1434.4 1622.0,1427.5 1623.4,1429.2 1624.7,1423.4 1624.8,1422.6 1624.9,1419.7 1625.0,1417.5 1625.1,1414.5 1625.2,1411.8 1625.4,1409.4 1625.5,1406.8 1625.6,1403.8 1625.7,1401.5 1625.8,1398.6 1625.9,1398.2 1626.1,1399.3 1626.3,1401.1 1626.5,1404.5 1626.7,1406.1 1626.9,1408.8 1627.1,1412.2 1627.2,1413.8 1627.4,1416.7 1627.6,1419.9 1627.8,1422.0 1628.0,1425.1 1628.2,1428.1 1628.6,1431.2 1629.1,1432.2 1629.5,1435.1 1630.0,1438.9 1630.4,1439.8 1630.8,1442.7 1631.3,1447.9 1631.7,1448.2 1632.6,1449.3 1633.5,1442.1 1634.5,1443.8 1635.4,1440.7 1636.3,1434.5 1639.2,1438.8 1642.1,1436.6 1645.0,1439.2 1647.9,1436.4 1650.8,1439.1 1653.7,1438.7 1656.6,1439.8 1659.5,1436.3 1662.4,1438.8 1665.3,1433.5 1668.2,1437.0 1671.1,1432.9 1674.0,1432.0 1676.8,1434.9 1679.7,1433.8 1682.6,1433.3 1685.5,1429.5 1688.4,1430.5 1691.3,1427.5 1694.2,1429.4 1697.1,1426.8 1700.0,1428.9 1702.9,1425.6 1705.8,1427.6 1708.7,1423.3 1711.6,1422.7 1714.5,1421.3 1717.4,1424.8 1720.3,1423.3 1723.2,1419.9 1726.1,1419.4 1729.0,1418.9 1731.9,1421.2 1734.8,1418.0 1737.6,1418.8 1740.5,1419.4 1743.6,1413.4 1746.7,1416.6 1749.8,1411.0 1751.0,1417.3 1752.1,1416.7 1753.3,1420.7 1753.6,1423.6 1753.9,1425.9 1754.3,1429.1 1754.6,1432.4 1754.9,1434.4 1755.2,1437.7 1755.5,1439.0 1755.8,1443.5 1756.2,1444.6 1756.5,1448.1 1756.8,1450.9 1757.4,1454.1 1757.9,1455.1 1758.5,1460.1 1759.1,1464.3 1759.5,1458.3 1760.0,1456.9 1760.4,1452.6 1760.8,1451.3 1761.3,1447.3 1761.7,1445.9 1762.2,1442.9 1762.6,1438.7 1762.6,1436.5 1762.7,1433.8 1762.7,1431.0 1762.8,1428.4 1762.8,1425.8 1762.9,1423.2 1762.9,1420.6 1762.9,1417.9 1763.0,1415.5 1763.0,1412.7 1763.1,1410.0 1763.1,1407.6 1763.2,1405.0 1763.2,1402.4 1763.3,1399.7 1763.3,1397.1 1763.3,1394.3 1763.4,1391.7 1763.4,1389.2 1763.5,1386.5 1763.5,1384.0 1763.6,1381.2 1763.6,1378.7 1763.6,1376.0 1763.7,1373.4 1763.7,1370.7 1763.8,1368.3 1763.8,1365.5 1763.9,1362.9 1763.9,1360.4 1763.9,1357.6 1764.0,1355.1 1764.0,1352.4 1764.1,1349.9 1764.1,1347.2 1764.2,1344.6 1764.2,1341.9 1764.2,1339.4 1764.3,1336.8 1764.3,1334.1 1764.4,1331.4 1764.4,1328.9 1764.5,1326.2 1764.5,1323.7 1764.6,1320.9 1764.6,1318.5 1764.6,1315.6 1764.7,1313.2 1764.7,1310.6 1764.8,1307.8 1764.8,1305.2 1764.9,1302.7 1764.9,1299.9 1764.9,1297.4 1764.9,1294.8 1765.0,1292.1 1765.0,1289.6 1765.0,1286.9 1765.0,1284.4 1765.0,1281.8 1765.0,1279.1 1765.1,1276.5 1765.1,1273.9 1765.1,1271.3 1765.1,1268.7 1765.1,1266.1 1765.2,1263.5 1765.2,1260.9 1765.2,1258.2 1765.2,1255.7 1765.2,1253.0 1765.3,1250.4 1765.3,1247.8 1765.3,1245.1 1765.3,1242.6 1765.3,1239.9 1765.3,1237.4 1765.4,1234.7 1765.4,1232.2 1765.4,1229.5 1765.4,1226.9 1765.4,1224.2 1765.5,1221.7 1765.5,1219.0 1765.5,1216.5 1765.5,1213.8 1765.5,1211.2 1765.6,1208.7 1765.6,1206.0 1765.6,1203.4 1765.6,1200.8 1765.6,1198.2 1765.6,1195.6 1765.7,1192.9 1765.7,1190.3 1765.7,1187.7 1765.7,1185.1 1765.7,1182.6 1765.8,1179.9 1765.8,1177.3 1765.8,1174.7 1765.8,1172.0 1765.8,1169.5 1765.9,1166.8 1765.9,1164.3 1765.9,1161.6 1765.9,1159.0 1765.9,1156.4 1765.9,1153.8 1766.0,1151.2 1766.0,1148.5 1766.0,1146.0 1766.0,1143.3 1766.0,1140.7 1766.1,1138.1 1766.1,1135.5 1766.1,1133.0 1766.1,1130.3 1766.1,1127.7 1766.2,1125.1 1766.2,1122.5 1766.2,1119.9 1766.2,1117.2 1766.2,1114.6 1766.2,1112.1 1766.3,1109.4 1766.3,1106.8 1766.3,1103.0 1766.3,1106.9 1766.3,1109.4 1766.4,1112.0 1766.4,1114.7 1766.4,1117.2 1766.4,1119.9 1766.4,1122.4 1766.4,1125.1 1766.5,1127.7 1766.5,1130.3 1766.5,1132.9 1766.5,1135.5 1766.5,1138.2 1766.5,1140.8 1766.6,1143.4 1766.6,1145.9 1766.6,1148.5 1766.6,1151.2 1766.6,1153.8 1766.6,1156.4 1766.7,1159.0 1766.7,1161.6 1766.7,1164.3 1766.7,1166.8 1766.7,1169.5 1766.8,1172.1 1766.8,1174.6 1766.8,1177.3 1766.8,1179.9 1766.8,1182.6 1766.8,1185.1 1766.9,1187.7 1766.9,1190.4 1766.9,1193.0 1766.9,1195.6 1766.9,1198.2 1766.9,1200.8 1767.0,1203.4 1767.0,1206.0 1767.0,1208.7 1767.0,1211.3 1767.0,1213.8 1767.0,1216.4 1767.1,1219.1 1767.1,1221.7 1767.1,1224.3 1767.1,1226.9 1767.1,1229.5 1767.1,1232.1 1767.2,1234.7 1767.2,1237.3 1767.2,1240.0 1767.2,1242.5 1767.2,1245.2 1767.3,1247.8 1767.3,1250.4 1767.3,1253.0 1767.3,1255.7 1767.3,1258.2 1767.3,1260.9 1767.4,1263.5 1767.4,1266.0 1767.4,1268.7 1767.4,1271.3 1767.4,1273.9 1767.4,1276.5 1767.5,1279.1 1767.5,1281.7 1767.5,1284.3 1767.5,1286.9 1767.5,1289.5 1767.5,1292.2 1767.6,1294.8 1767.6,1297.4 1767.6,1300.0 1767.6,1302.6 1767.6,1305.3 1767.6,1307.8 1767.7,1310.5 1767.7,1313.0 1767.7,1315.7 1767.7,1318.3 1767.7,1321.0 1767.7,1323.5 1767.8,1326.2 1767.8,1328.8 1767.8,1331.5 1767.8,1334.0 1767.8,1336.6 1767.8,1339.2 1767.8,1341.9 1767.9,1344.5 1767.9,1347.1 1767.9,1349.8 1767.9,1352.3 1767.9,1355.0 1767.9,1357.6 1767.9,1360.2 1768.0,1362.8 1768.0,1365.5 1768.0,1368.0 1768.0,1370.6 1768.0,1373.3 1768.0,1375.9 1768.0,1378.5 1768.1,1381.1 1768.1,1383.8 1768.1,1386.4 1768.1,1389.0 1768.1,1391.6 1768.1,1394.2 1768.2,1396.9 1768.2,1399.5 1768.2,1402.1 1768.2,1404.7 1768.2,1407.3 1768.2,1409.9 1768.2,1412.5 1768.3,1415.1 1768.3,1417.8 1768.3,1420.4 1768.3,1423.1 1768.3,1425.6 1768.3,1428.3 1768.3,1430.8 1768.4,1433.5 1768.4,1436.2 1768.4,1438.7 1768.4,1441.3 1768.4,1444.0 1768.4,1446.6 1768.5,1449.2 1768.5,1451.8 1768.5,1454.5 1768.5,1457.0 1768.5,1459.7 1768.5,1462.3 1768.5,1464.9 1768.6,1467.5 1768.6,1470.1 1768.6,1472.7 1768.6,1475.4 1768.6,1478.0 1768.6,1480.6 1768.6,1483.3 1768.7,1485.8 1768.7,1488.5 1768.7,1491.0 1768.7,1493.7 1768.7,1496.3 1768.7,1498.9 1768.8,1501.5 1768.8,1504.2 1768.8,1506.8 1768.8,1507.2 1769.5,1507.0 1772.2,1511.5 1775.0,1512.0 1777.7,1511.0 1780.4,1515.4 1783.0,1510.7 1785.6,1512.8 1788.2,1510.8 1790.8,1512.8 1793.4,1509.6 1796.0,1510.5 1798.6,1507.3 1801.3,1511.3 1804.0,1506.9 1806.7,1510.0 1809.4,1506.8 1812.2,1508.5 1814.9,1504.9 1817.6,1504.1 1820.3,1505.6 1823.0,1506.6 1825.7,1503.8 1828.4,1504.0 1831.1,1503.9 1833.8,1506.8 1836.5,1506.3 1839.2,1502.8 1841.9,1503.4 1844.6,1506.4 1847.3,1503.4 1850.0,1503.5 1852.7,1504.5 1855.4,1502.5 1858.1,1505.3 1860.8,1504.7 1863.5,1503.4 1866.2,1503.0 1868.9,1498.8 1871.6,1501.6 1874.6,1500.3 1877.7,1502.0 1880.8,1499.1 1883.8,1499.0 1885.4,1499.4 1887.0,1494.3 1888.6,1491.6 1890.2,1488.3 1891.9,1489.8 1893.5,1484.2 1894.0,1487.4 1894.4,1491.0 1894.8,1491.9 1895.3,1495.8 1895.8,1496.9 1896.2,1501.3 1896.6,1502.6 1897.1,1507.6 1899.5,1502.0 1902.0,1505.6 1904.0,1504.5 1906.1,1510.1 1908.1,1508.5 1909.1,1506.7 1910.1,1506.7 1911.0,1502.1 1912.0,1502.0 1913.0,1496.4 1913.5,1496.3 1914.0,1494.4 1914.5,1491.8 1915.0,1486.3 1915.5,1485.1 1916.0,1481.1 1916.5,1478.7 1917.0,1478.0 1917.5,1474.3 1918.0,1470.1 1918.5,1467.5 1919.0,1467.0 1919.2,1468.9 1919.4,1470.3 1919.6,1473.8 1919.8,1476.4 1920.0,1478.3 1920.2,1481.7 1920.4,1483.9 1920.6,1487.4 1920.8,1489.0 1921.0,1492.2 1921.2,1494.1 1921.4,1497.4 1921.5,1499.8 1921.6,1502.3 1921.7,1505.4 1921.8,1507.6 1921.9,1510.1 1922.0,1512.6 1922.1,1515.8 1922.1,1517.9 1922.2,1520.9 1922.3,1523.3 1922.4,1525.7 1922.5,1528.5 1922.6,1531.3 1922.7,1532.7 1925.9,1536.9 1929.2,1533.0 1932.4,1537.2 1934.8,1534.8 1937.3,1529.5 1938.3,1530.3 1939.4,1528.1 1940.5,1523.4 1941.5,1520.6 1942.1,1525.8 1942.7,1528.4 1943.4,1528.9 1944.0,1534.0 1944.6,1532.9 1947.6,1536.1 1950.6,1531.8 1951.4,1537.1 1952.2,1538.2 1953.0,1544.2 1953.9,1543.3 1954.7,1549.8 1955.5,1550.8" fill="none" stroke="#00ff00" stroke-width="4.3" stroke-linejoin="round" stroke-linecap="round"/>
</g>
<g clip-path="url(#ce)">
<polyline points="151.0,2019.1 153.8,2105.0 156.5,2104.4 158.9,2072.2 160.6,2037.9 162.9,2071.5 164.8,2051.4 166.5,2139.7 168.2,2053.4 170.9,2082.1 172.7,1996.3 175.5,2079.0 178.0,2045.7 180.8,1998.0 182.7,2087.3 184.0,1990.0 186.7,2130.5 188.6,2074.7 190.8,2056.4 192.4,2034.5 194.0,2074.5 196.6,2002.5 198.9,2086.8 201.7,2075.1 204.2,2147.6 206.2,2038.8 208.8,2124.5 211.5,2039.2 214.3,2105.8 217.0,2057.7 219.8,2102.1 221.5,2061.5 223.3,2112.8 224.9,2134.2 227.1,2042.0 229.8,2074.5 231.9,1991.2 234.1,2029.0 235.8,2062.7 238.3,1984.8 240.5,2086.1 242.6,2098.9 245.3,2008.7 247.8,2049.5 249.7,2027.4 252.5,2030.7 254.9,2070.8 256.8,2039.1 259.5,2075.9 261.9,1991.4 264.5,2069.6 266.0,1984.0 269.1,2058.7 271.4,1972.8 273.7,2038.7 276.3,1989.4 278.9,2068.4 281.5,2002.2 284.2,2007.6 287.0,2081.2 289.2,2076.8 291.4,1990.6 293.9,2050.5 296.2,2028.9 298.3,2093.6 300.8,2011.4 302.5,2101.6 305.0,2038.1 306.6,2082.5 308.3,2054.5 310.1,2063.7 312.0,1992.0 314.4,2069.6 316.5,1995.7 318.6,2118.2 320.2,2022.6 321.8,2100.2 324.6,2078.3 326.7,2049.6 328.5,2117.6 330.7,2001.3 332.7,2046.0 334.3,2107.3 336.0,2042.8 338.7,2099.2 340.7,2099.3 342.7,2005.1 344.6,2054.9 346.8,2047.7 349.0,2090.3 351.1,2039.6 353.1,2108.0 355.7,2031.0 358.5,2076.6 360.3,2074.8 362.3,2052.3 364.4,2100.3 366.1,2034.4 368.1,2101.0 370.3,2063.8 372.3,2071.2 374.2,2024.1 376.9,2101.0 379.5,2040.8 381.8,2076.3 384.5,2021.7 386.6,2066.1 389.2,2039.7 391.9,2034.3 394.9,1997.0 397.2,2011.8 400.8,2035.0 404.5,1943.0 406.7,1911.0 409.7,1966.0 410.4,2017.0 411.2,1933.0 414.1,2010.7 416.4,2072.0 418.6,2006.0 420.6,2034.3 423.1,2070.0 426.0,2099.0 427.5,2099.6 430.3,2112.9 432.0,2097.7 434.4,2145.9 436.1,2107.0 438.2,2117.1 439.8,2145.5 441.5,2098.7 443.5,2095.1 445.5,2135.1 448.0,2099.4 450.7,2152.9 453.1,2120.8 455.6,2158.6 457.3,2123.4 459.1,2152.3 461.5,2094.2 463.2,2149.2 465.6,2060.0 467.6,2152.7 470.1,2147.1 472.6,2129.0 474.3,2096.2 476.0,2142.6 478.0,2134.7 480.0,2161.8 481.7,2157.3 483.8,2172.9 486.1,2111.1 488.1,2159.9 489.7,2143.6 491.9,2134.9 493.4,2194.0 495.5,2133.0 497.2,2152.8 499.2,2157.7 501.0,2144.8 502.9,2167.5 505.1,2095.5 507.9,2159.9 510.3,2097.3 512.7,2160.8 515.1,2148.2 516.7,2166.6 518.4,2100.1 520.3,2193.8 522.2,2148.1 524.1,2195.0 526.9,2171.2 528.4,2132.7 531.0,2162.2 533.8,2152.3 535.8,2148.9 538.0,2152.4 539.6,2158.7 541.2,2150.7 543.3,2162.4 546.1,2152.8 548.4,2186.5 550.3,2144.1 553.0,2115.0 554.4,2179.1 556.6,2131.9 559.0,2167.4 561.7,2174.6 563.6,2140.2 565.5,2129.4 567.5,2187.4 569.1,2165.1 571.4,2175.9 573.1,2163.3 575.0,2173.1 576.6,2147.2 578.9,2155.8 581.3,2168.0 583.9,2134.2 586.7,2171.6 589.4,2128.8 591.1,2180.2 593.5,2160.7 595.1,2169.5 596.7,2135.7 598.7,2205.0 600.6,2120.8 602.6,2168.4 605.0,2112.0 606.9,2180.4 609.0,2168.2 611.6,2180.5 613.8,2150.4 615.9,2170.4 618.7,2117.7 620.4,2173.2 623.2,2140.2 624.9,2071.0 627.3,2156.7 629.2,2182.3 631.0,2153.2 632.9,2116.8 635.2,2165.7 637.0,2147.3 638.7,2183.6 641.2,2147.1 643.2,2167.7 645.9,2128.2 647.4,2185.7 649.7,2147.1 651.3,2176.2 653.3,2119.6 656.2,2148.2 658.9,2164.2 661.5,2120.0 663.9,2162.1 665.5,2125.6 667.5,2184.3 669.5,2170.3 671.4,2150.7 673.8,2144.9 676.5,2171.4 678.9,2114.7 681.1,2142.7 683.3,2167.9 684.9,2146.6 687.6,2149.6 690.0,2120.0 692.2,2155.1 694.3,2177.6 696.2,2156.2 698.9,2187.6 700.7,2142.0 703.0,2200.0 705.1,2132.3 707.3,2198.0 709.7,2195.2 711.5,2172.5 713.8,2190.2 715.6,2158.6 718.1,2214.1 720.3,2161.2 722.9,2246.9 725.7,2201.6 727.9,2156.0 729.7,2203.6 732.0,2187.8 734.6,2193.9 737.0,2149.9 739.8,2248.0 741.5,2150.9 743.3,2220.8 745.8,2179.7 747.9,2225.9 750.2,2194.6 752.7,2150.8 754.3,2204.4 756.8,2199.2 758.8,2216.1 761.6,2187.7 764.0,2219.4 766.3,2211.9 768.6,2182.4 770.7,2209.0 772.6,2167.1 774.7,2239.9 777.5,2204.3 779.5,2208.9 781.5,2205.8 783.4,2233.9 785.0,2202.2 787.8,2237.7 789.7,2220.5 792.2,2201.7 794.8,2211.4 797.1,2180.1 798.7,2233.8 801.2,2258.6 805.0,2307.0 806.8,2215.6 809.4,2162.6 812.2,2233.0 814.1,2214.1 816.0,2222.0 818.2,2203.8 820.2,2260.3 821.8,2249.6 824.6,2205.2 827.4,2209.1 828.9,2229.0 831.5,2192.5 834.0,2200.2 836.5,2245.5 838.2,2203.6 840.4,2240.3 843.2,2218.7 845.4,2255.5 847.1,2180.1 849.7,2226.9 851.9,2185.8 854.1,2252.5 856.2,2219.2 858.3,2227.1 861.1,2200.2 863.8,2199.1 866.7,2217.9 868.3,2238.3 870.8,2249.2 872.8,2218.6 875.4,2239.5 877.7,2204.8 879.8,2234.4 881.6,2228.1 883.4,2216.5 885.3,2178.2 887.7,2252.9 889.6,2248.5 891.7,2211.2 893.3,2234.6 895.6,2232.6 897.8,2225.3 899.4,2213.7 901.7,2232.1 903.6,2213.0 906.0,2229.4 907.6,2262.8 910.1,2216.1 912.5,2233.2 914.4,2214.6 915.9,2224.3 918.1,2258.1 919.9,2220.8 921.6,2277.6 923.2,2193.3 925.0,2243.3 927.2,2215.5 929.9,2253.5 931.8,2259.9 934.1,2225.8 936.2,2238.0 937.9,2177.9 939.9,2243.4 942.3,2240.9 943.9,2224.6 946.3,2203.9 948.6,2279.2" fill="none" stroke="#ff0000" stroke-width="3.4" stroke-linejoin="round" stroke-linecap="round"/>
<polyline points="151.3,2290.0 152.6,2304.4 155.6,2338.0 156.8,2301.6 158.4,2267.3 160.3,2307.6 163.1,2306.9 164.0,2264.0 166.6,2282.9 169.2,2294.1 172.3,2264.0 173.1,2297.9 174.9,2275.1 177.3,2299.2 179.2,2272.0 181.5,2306.2 184.2,2277.4 186.0,2262.0 188.4,2285.0 190.4,2336.0 193.1,2278.4 195.5,2247.4 197.6,2282.5 200.0,2209.5 202.5,2204.5 204.4,2280.6 206.8,2211.5 208.5,2232.8 211.1,2207.4 213.8,2214.7 215.9,2227.4 218.6,2172.1 220.7,2150.7 222.4,2189.9 224.2,2151.7 226.1,2165.1 228.2,2150.5 230.7,2102.9 233.0,2108.7 235.6,2093.6 238.2,2112.7 240.6,2060.7 242.2,2078.4 243.8,2045.6 245.6,2079.7 248.2,2018.2 250.0,2026.8 253.0,1940.0 254.5,1960.1 256.2,1999.4 258.1,1976.6 260.9,1993.6 262.6,1965.3 266.4,1920.0 267.9,1966.0 270.5,1935.1 273.0,1952.3 276.8,1881.0 278.5,1986.6 280.7,1926.7 282.3,2001.6 284.7,1992.0 286.9,2058.1 288.9,1967.3 290.7,2019.8 293.5,2045.7 295.6,1994.7 298.1,1981.3 300.6,2036.3 303.2,1998.0 305.8,2078.2 308.6,2038.7 310.4,2032.4 313.0,2065.5 315.6,1998.0 317.9,2062.5 319.4,2002.6 322.2,2068.7 324.9,2046.9 326.8,2083.1 329.1,2057.8 331.9,2100.8 334.0,1989.0 336.8,2103.6 339.0,2055.0 340.8,2063.9 343.4,2043.0 345.7,2102.5 347.9,2001.1 350.2,2088.0 352.1,2058.3 354.6,2020.1 356.7,2097.0 359.2,2035.4 361.4,2131.7 364.1,2073.9 366.0,2128.7 367.7,2032.0 369.9,2083.8 372.3,2050.3 375.0,2089.5 376.7,2101.9 379.5,2041.1 383.0,2032.0 384.5,2062.0 388.2,2032.0 391.1,2031.0 394.1,2062.0 397.8,1973.0 399.3,2003.0 401.5,1937.0 403.8,1936.0 404.5,1869.0 406.0,1790.0 408.2,1869.0 409.7,1928.0 411.9,2032.0 413.4,2056.0 414.9,1995.0 417.9,2003.0 420.1,2018.0 422.3,2077.0 424.6,2098.0 427.2,2119.6 428.8,2108.7 430.9,2102.7 433.5,2124.5 435.8,2147.9 437.4,2098.8 439.1,2128.4 441.4,2144.0 443.1,2136.0 445.2,2127.5 447.1,2183.5 449.3,2148.5 450.9,2165.3 452.9,2131.9 455.1,2201.9 457.1,2126.6 459.6,2154.2 461.4,2088.8 464.0,2164.3 466.2,2135.9 468.7,2124.6 470.6,2179.0 472.7,2108.5 474.3,2162.7 476.2,2145.0 477.9,2191.4 479.8,2097.9 481.7,2174.4 484.0,2073.0 486.4,2180.3 488.4,2149.3 489.9,2185.0 491.7,2131.5 493.2,2158.9 494.8,2143.5 496.8,2163.2 499.3,2114.5 501.8,2183.6 504.6,2136.9 507.1,2154.2 509.9,2168.8 513.0,2080.0 514.6,2144.9 517.2,2141.9 519.6,2202.4 521.5,2145.7 523.1,2160.2 525.4,2197.0 527.6,2130.8 530.2,2165.7 532.6,2126.1 535.1,2166.6 537.6,2153.7 540.1,2206.3 542.3,2162.1 544.9,2204.4 546.6,2136.7 549.1,2184.1 550.7,2128.9 553.2,2188.4 555.4,2123.8 557.5,2223.8 560.4,2220.2 561.9,2232.1 564.1,2155.9 565.9,2193.5 567.6,2163.9 570.4,2213.3 573.1,2125.3 575.0,2202.3 576.5,2147.9 578.6,2177.0 580.6,2188.5 582.1,2170.6 584.9,2235.0 587.6,2162.6 590.5,2201.9 592.5,2146.1 594.2,2158.5 596.1,2193.6 598.3,2160.1 600.3,2105.2 602.7,2151.0 605.5,2220.1 608.0,2153.7 610.5,2186.1 613.3,2148.4 615.5,2184.5 619.0,2101.0 620.7,2181.9 622.5,2130.7 624.3,2199.8 627.0,2189.4 629.2,2155.8 631.1,2184.3 633.0,2170.8 635.5,2128.9 637.6,2197.8 639.2,2164.0 642.1,2193.3 644.7,2143.1 646.6,2168.4 649.4,2197.8 652.1,2158.9 654.8,2164.0 657.2,2184.0 659.8,2158.2 662.6,2155.3 664.8,2161.2 667.6,2146.7 669.8,2152.7 671.4,2126.8 673.8,2105.5 676.0,2092.0 679.7,2119.9 681.9,2130.3 684.0,2153.1 685.9,2132.4 688.7,2182.6 690.6,2129.1 693.4,2173.2 695.6,2151.0 697.7,2173.8 699.5,2222.0 701.5,2142.4 704.1,2206.4 706.3,2165.2 708.9,2248.8 710.8,2194.1 713.0,2169.2 714.8,2157.3 716.5,2222.0 718.4,2184.0 720.0,2205.8 722.7,2241.6 725.5,2169.5 727.3,2252.4 729.7,2183.8 731.7,2214.3 733.6,2188.1 736.4,2264.2 738.4,2263.7 740.0,2160.0 743.1,2202.3 744.9,2251.8 747.0,2258.8 749.5,2199.1 752.3,2210.0 754.8,2184.5 757.6,2226.2 759.5,2203.0 761.0,2237.0 763.8,2157.5 765.6,2268.3 768.4,2179.2 770.5,2219.8 773.3,2186.8 775.9,2265.6 778.3,2198.1 780.8,2237.8 782.6,2211.9 784.2,2237.6 786.2,2277.0 788.1,2204.7 789.8,2265.9 791.6,2213.2 794.0,2188.6 796.4,2263.9 799.0,2203.1 801.5,2256.9 803.4,2215.8 805.7,2196.0 807.8,2255.5 810.4,2213.8 813.2,2185.4 815.9,2193.2 817.5,2220.8 820.3,2200.1 823.1,2263.4 824.9,2168.3 827.7,2252.6 829.6,2189.2 831.3,2224.5 833.7,2192.7 835.2,2241.1 837.2,2172.8 839.8,2229.4 841.8,2214.3 844.2,2235.0 846.3,2207.4 849.0,2300.0 850.3,2210.1 853.0,2250.7 855.5,2218.2 857.0,2190.2 859.1,2198.7 861.2,2222.3 863.6,2224.4 865.3,2196.3 867.0,2242.2 870.0,2310.0 871.8,2212.8 873.6,2163.9 875.8,2277.8 878.6,2165.0 881.2,2267.8 883.8,2226.8 886.4,2187.4 888.2,2254.0 889.9,2197.4 892.4,2229.2 896.0,2305.0 897.6,2255.4 900.0,2191.4 902.1,2252.2 904.2,2203.7 905.8,2249.2 908.3,2194.1 910.5,2236.0 912.2,2185.7 913.9,2256.1 916.2,2204.7 918.7,2225.0 920.9,2179.2 923.7,2175.1 926.2,2168.4 928.0,2178.9 930.8,2220.1 933.4,2204.6 936.0,2286.0 938.6,2205.1 940.8,2155.9 942.7,2216.5 944.2,2175.6 946.0,2168.8 947.8,2231.0 949.4,2168.1" fill="none" stroke="#00ff00" stroke-width="3.4" stroke-linejoin="round" stroke-linecap="round"/>
</g>
<g clip-path="url(#cf)">
<polyline points="1156.7,2279.8 1160.2,2279.4 1164.9,2278.9 1170.5,2278.2 1176.7,2277.5 1183.3,2276.8 1190.1,2276.0 1196.8,2275.2 1203.3,2274.4 1209.6,2273.6 1216.2,2272.8 1222.8,2272.0 1229.5,2271.2 1236.3,2270.3 1243.1,2269.5 1249.9,2268.6 1256.6,2267.8 1263.3,2267.0 1270.0,2266.1 1276.8,2265.3 1283.5,2264.5 1290.2,2263.7 1296.9,2262.8 1303.4,2262.0 1309.8,2261.1 1316.0,2260.3 1321.9,2259.5 1327.7,2258.7 1333.5,2257.9 1339.3,2257.0 1345.2,2256.1 1351.3,2255.1 1357.8,2253.9 1364.9,2252.5 1372.5,2251.0 1380.5,2249.3 1388.6,2247.5 1396.5,2245.8 1404.0,2244.1 1410.7,2242.5 1416.4,2241.1 1421.1,2239.9 1424.9,2238.8 1428.1,2237.9 1430.8,2237.0 1433.2,2236.1 1435.4,2235.3 1437.6,2234.5 1440.0,2233.6 1442.4,2232.7 1444.6,2231.9 1446.6,2231.2 1448.5,2230.4 1450.4,2229.6 1452.4,2228.8 1454.5,2227.9 1456.7,2227.0 1459.1,2226.0 1461.7,2224.9 1464.4,2223.8 1467.2,2222.7 1469.9,2221.5 1472.6,2220.3 1475.2,2219.0 1477.6,2217.8 1479.9,2216.5 1482.1,2215.3 1484.2,2213.9 1486.2,2212.6 1488.2,2211.2 1490.2,2209.8 1492.2,2208.4 1494.3,2206.9 1496.4,2205.4 1498.6,2203.7 1500.7,2202.1 1502.9,2200.4 1505.0,2198.7 1507.1,2197.0 1509.1,2195.3 1511.0,2193.6 1512.8,2191.9 1514.5,2190.2 1516.2,2188.5 1517.8,2186.8 1519.3,2185.1 1520.8,2183.4 1522.2,2181.8 1523.5,2180.2 1524.7,2178.7 1525.9,2177.1 1527.0,2175.7 1528.0,2174.2 1529.0,2172.8 1529.9,2171.3 1530.9,2169.9 1531.8,2168.5 1532.7,2167.1 1533.6,2165.9 1534.5,2164.6 1535.3,2163.4 1536.1,2162.1 1536.9,2160.8 1537.7,2159.3 1538.5,2157.6 1539.3,2155.7 1540.1,2153.7 1540.9,2151.6 1541.6,2149.3 1542.4,2147.0 1543.1,2144.7 1543.8,2142.4 1544.4,2140.1 1545.0,2137.8 1545.6,2135.5 1546.1,2133.2 1546.7,2130.8 1547.2,2128.5 1547.6,2126.2 1548.1,2123.9 1548.5,2121.7 1548.9,2119.5 1549.3,2117.4 1549.6,2115.3 1549.9,2113.2 1550.2,2111.2 1550.5,2109.1 1550.7,2107.1 1551.0,2105.0 1551.2,2102.9 1551.5,2100.8 1551.7,2098.7 1551.9,2096.6 1552.1,2094.5 1552.3,2092.4 1552.5,2090.4 1552.7,2088.3 1553.0,2086.3 1553.2,2084.3 1553.5,2082.4 1553.8,2080.5 1554.1,2078.5 1554.4,2076.5 1554.7,2074.3 1555.0,2072.0 1555.3,2069.5 1555.6,2066.8 1556.0,2063.9 1556.3,2061.0 1556.6,2058.1 1556.9,2055.2 1557.3,2052.5 1557.6,2050.0 1557.9,2047.7 1558.2,2045.5 1558.6,2043.4 1558.9,2041.4 1559.2,2039.5 1559.5,2037.6 1559.9,2035.8 1560.2,2034.0 1560.5,2032.3 1560.9,2030.6 1561.2,2029.1 1561.5,2027.6 1561.9,2026.0 1562.2,2024.5 1562.6,2022.8 1563.0,2021.0 1563.4,2019.1 1563.7,2017.1 1564.1,2015.0 1564.5,2012.8 1564.9,2010.6 1565.4,2008.4 1565.9,2006.2 1566.5,2004.0 1567.2,2001.8 1567.8,1999.7 1568.6,1997.5 1569.3,1995.3 1570.2,1993.1 1571.2,1990.8 1572.3,1988.4 1573.6,1986.0 1575.1,1983.4 1576.9,1980.6 1578.8,1977.8 1580.8,1974.8 1582.8,1971.9 1584.8,1969.1 1586.7,1966.5 1588.5,1964.0 1590.1,1961.8 1591.5,1959.7 1592.8,1957.8 1594.1,1955.9 1595.4,1954.1 1596.8,1952.3 1598.3,1950.5 1600.0,1948.6 1601.9,1946.6 1603.9,1944.6 1606.1,1942.5 1608.3,1940.5 1610.6,1938.5 1612.9,1936.5 1615.2,1934.7 1617.4,1933.0 1619.6,1931.4 1621.7,1930.0 1623.9,1928.6 1626.1,1927.3 1628.2,1926.0 1630.4,1924.8 1632.5,1923.6 1634.7,1922.5 1636.9,1921.4 1639.0,1920.3 1641.2,1919.3 1643.4,1918.3 1645.6,1917.4 1647.7,1916.5 1649.9,1915.6 1652.1,1914.7 1654.3,1913.8 1656.4,1913.0 1658.6,1912.2 1660.8,1911.4 1663.0,1910.6 1665.1,1909.8 1667.3,1909.1 1669.5,1908.3 1671.7,1907.6 1673.9,1906.8 1676.0,1906.1 1678.2,1905.4 1680.4,1904.7 1682.6,1904.0 1684.7,1903.3 1686.9,1902.6 1689.1,1901.9 1691.2,1901.2 1693.4,1900.5 1695.6,1899.9 1697.7,1899.2 1699.9,1898.5 1702.0,1897.9 1704.2,1897.3 1706.4,1896.7 1708.5,1896.1 1710.7,1895.6 1712.9,1895.1 1715.1,1894.5 1717.2,1894.0 1719.4,1893.5 1721.6,1893.0 1723.8,1892.5 1726.0,1892.0 1728.1,1891.5 1730.3,1891.0 1732.5,1890.6 1734.7,1890.1 1736.8,1889.7 1739.0,1889.2 1741.2,1888.7 1743.3,1888.3 1745.5,1887.8 1747.6,1887.4 1749.8,1887.0 1752.0,1886.5 1754.1,1886.1 1756.3,1885.7 1758.5,1885.3 1760.6,1884.9 1762.8,1884.5 1765.0,1884.1 1767.2,1883.7 1769.3,1883.4 1771.5,1883.0 1773.7,1882.6 1775.9,1882.2 1778.1,1881.8 1780.2,1881.4 1782.4,1881.0 1784.6,1880.6 1786.8,1880.2 1788.9,1879.9 1791.1,1879.5 1793.3,1879.1 1795.4,1878.8 1797.6,1878.4 1799.7,1878.1 1801.9,1877.8 1804.1,1877.4 1806.2,1877.1 1808.4,1876.8 1810.6,1876.5 1812.7,1876.2 1814.9,1875.9 1817.1,1875.6 1819.3,1875.3 1821.4,1875.0 1823.6,1874.7 1825.8,1874.4 1828.0,1874.1 1830.2,1873.8 1832.3,1873.6 1834.5,1873.3 1836.7,1873.0 1838.9,1872.7 1841.0,1872.5 1843.2,1872.2 1845.4,1871.9 1847.5,1871.7 1849.7,1871.4 1851.9,1871.1 1854.0,1870.9 1856.2,1870.6 1858.3,1870.4 1860.5,1870.1 1862.6,1869.9 1864.7,1869.6 1866.8,1869.4 1868.9,1869.1 1871.0,1868.9 1873.2,1868.7 1875.5,1868.4 1877.9,1868.2 1880.4,1867.9 1883.0,1867.7 1885.7,1867.4 1888.4,1867.2 1891.2,1866.9 1894.1,1866.6 1897.0,1866.4 1900.0,1866.1 1903.1,1865.9 1906.2,1865.6 1909.3,1865.4 1912.6,1865.2 1915.9,1864.9 1919.3,1864.7 1922.7,1864.5 1926.2,1864.2 1930.0,1863.9 1934.2,1863.6 1938.6,1863.3 1943.0,1863.0 1947.2,1862.7 1951.0,1862.4 1954.1,1862.2 1956.5,1862.0" fill="none" stroke="#ff0000" stroke-width="4.6" stroke-linejoin="round" stroke-linecap="round"/>
<polyline points="1156.7,2381.0 1160.2,2380.6 1164.9,2380.1 1170.5,2379.5 1176.7,2378.8 1183.3,2378.0 1190.1,2377.2 1196.8,2376.5 1203.3,2375.7 1209.6,2374.9 1216.2,2374.2 1222.8,2373.4 1229.5,2372.6 1236.3,2371.8 1243.1,2370.9 1249.9,2370.0 1256.6,2369.0 1263.3,2368.0 1270.0,2366.9 1276.8,2365.8 1283.5,2364.6 1290.2,2363.4 1296.9,2362.2 1303.4,2360.9 1309.8,2359.7 1316.0,2358.5 1321.9,2357.3 1327.7,2356.1 1333.5,2354.8 1339.3,2353.6 1345.2,2352.2 1351.3,2350.7 1357.8,2349.0 1364.7,2347.2 1372.1,2345.2 1379.8,2343.1 1387.6,2340.8 1395.3,2338.6 1402.8,2336.3 1409.9,2334.0 1416.4,2331.7 1422.4,2329.4 1428.0,2327.1 1433.3,2324.8 1438.3,2322.5 1443.1,2320.1 1447.7,2317.8 1452.1,2315.4 1456.3,2313.1 1460.3,2310.8 1464.1,2308.4 1467.7,2306.0 1471.1,2303.6 1474.3,2301.2 1477.3,2298.9 1480.2,2296.6 1483.0,2294.4 1485.6,2292.3 1487.9,2290.2 1490.1,2288.2 1492.1,2286.2 1494.0,2284.2 1495.9,2282.2 1497.9,2280.1 1500.0,2278.0 1502.2,2275.9 1504.4,2273.8 1506.7,2271.7 1509.0,2269.6 1511.2,2267.4 1513.4,2265.1 1515.6,2262.6 1517.6,2260.0 1519.6,2257.2 1521.5,2254.2 1523.4,2251.2 1525.3,2248.0 1527.0,2244.7 1528.7,2241.3 1530.3,2237.9 1531.8,2234.5 1533.2,2231.0 1534.4,2227.3 1535.5,2223.6 1536.6,2219.8 1537.6,2216.0 1538.5,2212.3 1539.4,2208.7 1540.2,2205.2 1541.0,2201.9 1541.7,2198.6 1542.4,2195.5 1543.0,2192.4 1543.6,2189.4 1544.1,2186.4 1544.7,2183.3 1545.2,2180.2 1545.7,2177.1 1546.2,2173.9 1546.6,2170.8 1547.0,2167.6 1547.4,2164.5 1547.8,2161.4 1548.1,2158.2 1548.5,2155.1 1548.9,2152.0 1549.2,2148.8 1549.5,2145.7 1549.8,2142.6 1550.1,2139.5 1550.4,2136.4 1550.7,2133.2 1551.0,2130.1 1551.3,2127.0 1551.6,2124.0 1551.9,2121.0 1552.2,2118.0 1552.5,2115.0 1552.9,2111.8 1553.2,2108.5 1553.5,2105.0 1553.8,2101.3 1554.2,2097.4 1554.5,2093.5 1554.9,2089.4 1555.2,2085.2 1555.6,2080.9 1555.9,2076.5 1556.2,2072.0 1556.5,2067.4 1556.8,2062.7 1557.0,2057.9 1557.3,2052.9 1557.6,2048.0 1557.8,2043.0 1558.1,2038.0 1558.3,2033.0 1558.5,2028.0 1558.7,2023.1 1558.9,2018.1 1559.1,2013.1 1559.3,2008.0 1559.5,2003.0 1559.8,1998.0 1560.1,1993.0 1560.5,1988.0 1560.8,1982.8 1561.3,1977.7 1561.7,1972.5 1562.2,1967.5 1562.7,1962.5 1563.3,1957.7 1563.9,1953.1 1564.6,1948.7 1565.3,1944.4 1566.1,1940.2 1566.9,1936.1 1567.8,1932.2 1568.7,1928.3 1569.6,1924.7 1570.6,1921.1 1571.6,1917.7 1572.6,1914.5 1573.7,1911.4 1574.8,1908.5 1576.0,1905.6 1577.2,1902.8 1578.5,1900.0 1579.9,1897.2 1581.3,1894.4 1582.8,1891.7 1584.2,1889.0 1585.8,1886.4 1587.5,1883.8 1589.2,1881.2 1591.1,1878.5 1593.2,1875.9 1595.4,1873.2 1597.7,1870.6 1600.1,1867.9 1602.7,1865.2 1605.4,1862.5 1608.2,1859.8 1611.3,1857.2 1614.5,1854.5 1617.9,1851.8 1621.6,1849.1 1625.4,1846.4 1629.3,1843.7 1633.4,1841.0 1637.7,1838.3 1642.0,1835.7 1646.5,1833.2 1651.1,1830.7 1655.9,1828.3 1660.9,1825.9 1666.0,1823.5 1671.2,1821.2 1676.3,1818.9 1681.5,1816.7 1686.5,1814.6 1691.5,1812.5 1696.5,1810.6 1701.5,1808.6 1706.5,1806.7 1711.4,1804.9 1716.4,1803.2 1721.4,1801.5 1726.4,1799.9 1731.3,1798.4 1736.1,1797.0 1740.8,1795.7 1745.6,1794.4 1750.4,1793.2 1755.5,1792.0 1760.8,1790.7 1766.4,1789.3 1772.4,1787.8 1778.8,1786.3 1785.4,1784.8 1792.2,1783.2 1799.1,1781.7 1806.1,1780.1 1813.0,1778.7 1819.7,1777.3 1826.4,1776.0 1833.0,1774.7 1839.7,1773.4 1846.3,1772.2 1852.9,1771.1 1859.6,1770.0 1866.2,1769.0 1872.9,1768.0 1879.7,1767.1 1886.8,1766.3 1893.9,1765.6 1901.0,1764.9 1907.9,1764.2 1914.5,1763.7 1920.6,1763.1 1926.2,1762.6 1931.3,1762.1 1936.1,1761.7 1940.6,1761.3 1944.7,1761.0 1948.4,1760.7 1951.6,1760.4 1954.3,1760.2 1956.5,1760.0" fill="none" stroke="#00ff00" stroke-width="4.6" stroke-linejoin="round" stroke-linecap="round"/>
</g>
<text transform="translate(151.0 724.0) scale(1 1.045)" font-size="35" text-anchor="middle">4000</text>
<text transform="translate(262.1 724.0) scale(1 1.045)" font-size="35" text-anchor="middle">3500</text>
<text transform="translate(373.2 724.0) scale(1 1.045)" font-size="35" text-anchor="middle">3000</text>
<text transform="translate(484.3 724.0) scale(1 1.045)" font-size="35" text-anchor="middle">2500</text>
<text transform="translate(595.4 724.0) scale(1 1.045)" font-size="35" text-anchor="middle">2000</text>
<text transform="translate(706.5 724.0) scale(1 1.045)" font-size="35" text-anchor="middle">1500</text>
<text transform="translate(817.5 724.0) scale(1 1.045)" font-size="35" text-anchor="middle">1000</text>
<text transform="translate(928.6 724.0) scale(1 1.045)" font-size="35" text-anchor="middle">500</text>
<text transform="translate(137.3 693.2) scale(1 1.045)" font-size="35" text-anchor="end">60</text>
<text transform="translate(137.3 610.1) scale(1 1.045)" font-size="35" text-anchor="end">65</text>
<text transform="translate(137.3 527.0) scale(1 1.045)" font-size="35" text-anchor="end">70</text>
<text transform="translate(137.3 443.9) scale(1 1.045)" font-size="35" text-anchor="end">75</text>
<text transform="translate(137.3 360.8) scale(1 1.045)" font-size="35" text-anchor="end">80</text>
<text transform="translate(137.3 277.7) scale(1 1.045)" font-size="35" text-anchor="end">85</text>
<text transform="translate(137.3 194.6) scale(1 1.045)" font-size="35" text-anchor="end">90</text>
<text transform="translate(137.3 111.5) scale(1 1.045)" font-size="35" text-anchor="end">95</text>
<text transform="translate(137.3 28.4) scale(1 1.045)" font-size="35" text-anchor="end">100</text>
<text x="80.0" y="362.7" font-size="35" text-anchor="middle" font-weight="bold" transform="rotate(-90 80.0 362.7)">Transmittance(%)</text>
<text x="551" y="765.3" font-size="35" font-weight="bold" text-anchor="middle">Wavenumber(cm<tspan font-size="24" dy="-14">-1</tspan><tspan dy="14">)</tspan></text>
<text x="0.8" y="102.0" font-size="115" text-anchor="start" fill="#ff0000">a</text>
<line x1="289.2" y1="422.6" x2="289.2" y2="452.4" stroke="#000" stroke-width="1.6"/>
<text transform="translate(269.2 478.4) scale(1 1.045)" font-size="35" text-anchor="start">3378.76</text>
<line x1="291.3" y1="566.4" x2="291.3" y2="592.5" stroke="#000" stroke-width="1.6"/>
<text transform="translate(267.5 608.7) scale(1 1.045)" font-size="35" text-anchor="start">3366.85</text>
<line x1="688.5" y1="406.8" x2="688.5" y2="437.2" stroke="#000" stroke-width="1.6"/>
<text transform="translate(600.5 465.1) scale(1 1.045)" font-size="35" text-anchor="start">1576.86</text>
<line x1="691.1" y1="555.9" x2="691.1" y2="583.4" stroke="#000" stroke-width="1.6"/>
<text transform="translate(667.7 601.7) scale(1 1.045)" font-size="35" text-anchor="start">1569.10</text>
<line x1="742.8" y1="418.9" x2="742.8" y2="444.2" stroke="#000" stroke-width="1.6"/>
<text transform="translate(736.9 465.1) scale(1 1.045)" font-size="35" text-anchor="start">1336.82</text>
<line x1="768.1" y1="387.5" x2="793.4" y2="393.6" stroke="#000" stroke-width="1.6"/>
<text transform="translate(783.1 426.6) scale(1 1.045)" font-size="35" text-anchor="start">1257.84</text>
<line x1="762.6" y1="308.9" x2="762.6" y2="338.2" stroke="#000" stroke-width="1.6"/>
<text transform="translate(675.3 300.1) scale(1 1.045)" font-size="35" text-anchor="start">1227.15</text>
<line x1="803.3" y1="285.8" x2="831.9" y2="310.5" stroke="#000" stroke-width="1.6"/>
<text transform="translate(801.8 345.2) scale(1 1.045)" font-size="35" text-anchor="start">1080.42</text>
<line x1="781.5" y1="184.0" x2="841.2" y2="132.5" stroke="#000" stroke-width="1.6"/>
<text transform="translate(705.9 212.7) scale(1 1.045)" font-size="35" text-anchor="start">892.89</text>
<line x1="842.3" y1="76.9" x2="842.3" y2="106.5" stroke="#000" stroke-width="1.6"/>
<text transform="translate(731.9 126.8) scale(1 1.045)" font-size="35" text-anchor="start">890.79</text>
<line x1="863.1" y1="53.7" x2="863.1" y2="77.8" stroke="#000" stroke-width="1.6"/>
<text transform="translate(848.0 100.1) scale(1 1.045)" font-size="35" text-anchor="start">797.46</text>
<line x1="863.4" y1="125.1" x2="868.1" y2="189.9" stroke="#000" stroke-width="1.6"/>
<text transform="translate(837.8 212.2) scale(1 1.045)" font-size="35" text-anchor="start">795.24</text>
<line x1="910.7" y1="211.2" x2="910.7" y2="231.6" stroke="#000" stroke-width="1.6"/>
<text transform="translate(887.9 265.0) scale(1 1.045)" font-size="35" text-anchor="start">580.40</text>
<line x1="938.5" y1="125.0" x2="938.5" y2="148.2" stroke="#000" stroke-width="1.6"/>
<text transform="translate(905.5 167.7) scale(1 1.045)" font-size="35" text-anchor="start">455.74</text>
<line x1="911.4" y1="591.7" x2="911.4" y2="614.7" stroke="#000" stroke-width="1.6"/>
<text transform="translate(890.7 635.5) scale(1 1.045)" font-size="35" text-anchor="start">580.70</text>
<text transform="translate(1192.9 723.4) scale(1 1.045)" font-size="35" text-anchor="middle">0.0</text>
<text transform="translate(1338.3 723.4) scale(1 1.045)" font-size="35" text-anchor="middle">0.2</text>
<text transform="translate(1483.7 723.4) scale(1 1.045)" font-size="35" text-anchor="middle">0.4</text>
<text transform="translate(1629.2 723.4) scale(1 1.045)" font-size="35" text-anchor="middle">0.6</text>
<text transform="translate(1774.6 723.4) scale(1 1.045)" font-size="35" text-anchor="middle">0.8</text>
<text transform="translate(1920.1 723.4) scale(1 1.045)" font-size="35" text-anchor="middle">1.0</text>
<text transform="translate(1142.3 632.8) scale(1 1.045)" font-size="35" text-anchor="end">80</text>
<text transform="translate(1142.3 511.9) scale(1 1.045)" font-size="35" text-anchor="end">120</text>
<text transform="translate(1142.3 391.0) scale(1 1.045)" font-size="35" text-anchor="end">160</text>
<text transform="translate(1142.3 270.1) scale(1 1.045)" font-size="35" text-anchor="end">200</text>
<text transform="translate(1142.3 149.1) scale(1 1.045)" font-size="35" text-anchor="end">240</text>
<text transform="translate(1142.3 28.2) scale(1 1.045)" font-size="35" text-anchor="end">280</text>
<text x="1076.1" y="344.4" font-size="35" font-weight="bold" text-anchor="middle" transform="rotate(-90 1076.1 344.4)">Quantity Adsorbed(cm<tspan font-size="32" dy="-14">3</tspan><tspan dy="14">/g,STP</tspan><tspan font-weight="normal" style='font-family:"Noto Serif CJK SC","Noto Sans CJK SC",serif'>）</tspan></text>
<text x="1556.5" y="761.7" font-size="35" font-weight="bold" text-anchor="middle">Relative Pressure(P/P<tspan font-size="24" dy="8">o</tspan><tspan dy="-8">)</tspan></text>
<text x="1006.4" y="109.5" font-size="115" text-anchor="start" fill="#ff0000">b</text>
<text transform="translate(151.0 1592.3) scale(1 1.045)" font-size="35" text-anchor="middle">0</text>
<text transform="translate(284.4 1592.3) scale(1 1.045)" font-size="35" text-anchor="middle">10</text>
<text transform="translate(417.8 1592.3) scale(1 1.045)" font-size="35" text-anchor="middle">20</text>
<text transform="translate(551.1 1592.3) scale(1 1.045)" font-size="35" text-anchor="middle">30</text>
<text transform="translate(684.5 1592.3) scale(1 1.045)" font-size="35" text-anchor="middle">40</text>
<text transform="translate(817.9 1592.3) scale(1 1.045)" font-size="35" text-anchor="middle">50</text>
<text transform="translate(951.3 1592.3) scale(1 1.045)" font-size="35" text-anchor="middle">60</text>
<text transform="translate(137.3 1561.7) scale(1 1.045)" font-size="35" text-anchor="end">0.00</text>
<text transform="translate(137.3 1451.0) scale(1 1.045)" font-size="35" text-anchor="end">0.02</text>
<text transform="translate(137.3 1340.2) scale(1 1.045)" font-size="35" text-anchor="end">0.04</text>
<text transform="translate(137.3 1229.5) scale(1 1.045)" font-size="35" text-anchor="end">0.06</text>
<text transform="translate(137.3 1118.7) scale(1 1.045)" font-size="35" text-anchor="end">0.08</text>
<text transform="translate(137.3 1008.0) scale(1 1.045)" font-size="35" text-anchor="end">0.10</text>
<text transform="translate(137.3 897.2) scale(1 1.045)" font-size="35" text-anchor="end">0.12</text>
<text x="62.3" y="1218.7" font-size="35" font-weight="bold" text-anchor="middle" transform="rotate(-90 62.3 1218.7)">dV/dD Pore Volume (cm<tspan font-size="24" dy="-13">3</tspan><tspan dy="13">/g·nm)</tspan></text>
<text x="551.0" y="1638.6" font-size="35" text-anchor="middle" font-weight="bold">Pore diameter (nm)</text>
<text x="9.0" y="957.0" font-size="115" text-anchor="start" fill="#ff0000" font-weight="bold">c</text>
<text transform="translate(1956.4 1592.3) scale(1 1.045)" font-size="35" text-anchor="middle">0</text>
<text transform="translate(1823.1 1592.3) scale(1 1.045)" font-size="35" text-anchor="middle">200</text>
<text transform="translate(1689.8 1592.3) scale(1 1.045)" font-size="35" text-anchor="middle">400</text>
<text transform="translate(1556.5 1592.3) scale(1 1.045)" font-size="35" text-anchor="middle">600</text>
<text transform="translate(1423.1 1592.3) scale(1 1.045)" font-size="35" text-anchor="middle">800</text>
<text transform="translate(1289.8 1592.3) scale(1 1.045)" font-size="35" text-anchor="middle">1000</text>
<text transform="translate(1156.5 1592.3) scale(1 1.045)" font-size="35" text-anchor="middle">1200</text>
<text x="1556.3" y="1639.6" font-size="35" text-anchor="middle" font-weight="bold">Binding Energy(eV)</text>
<text x="1134.2" y="1205.5" font-size="35" font-weight="bold" text-anchor="middle" transform="rotate(-90 1134.2 1205.5)">Intensity<tspan font-weight="normal" style='font-family:"Noto Serif CJK SC","Noto Sans CJK SC",serif'>（</tspan>a.u<tspan font-weight="normal" style='font-family:"Noto Serif CJK SC","Noto Sans CJK SC",serif'>）</tspan></text>
<text transform="translate(1446.7 1072.7) scale(1 1.045)" font-size="35" text-anchor="start">Fe2p</text>
<text transform="translate(1572.1 999.6) scale(1 1.045)" font-size="35" text-anchor="start">O1s</text>
<text transform="translate(1768.7 1079.0) scale(1 1.045)" font-size="35" text-anchor="start">C1s</text>
<text transform="translate(1697.3 1411.2) scale(1 1.045)" font-size="35" text-anchor="start">N1s</text>
<text x="1068.3" y="990.5" font-size="115" text-anchor="start" fill="#ff0000">d</text>
<text transform="translate(151.1 2445.8) scale(1 1.045)" font-size="35" text-anchor="middle">10</text>
<text transform="translate(251.1 2445.8) scale(1 1.045)" font-size="35" text-anchor="middle">20</text>
<text transform="translate(351.1 2445.8) scale(1 1.045)" font-size="35" text-anchor="middle">30</text>
<text transform="translate(451.1 2445.8) scale(1 1.045)" font-size="35" text-anchor="middle">40</text>
<text transform="translate(551.0 2445.8) scale(1 1.045)" font-size="35" text-anchor="middle">50</text>
<text transform="translate(651.0 2445.8) scale(1 1.045)" font-size="35" text-anchor="middle">60</text>
<text transform="translate(751.0 2445.8) scale(1 1.045)" font-size="35" text-anchor="middle">70</text>
<text transform="translate(851.0 2445.8) scale(1 1.045)" font-size="35" text-anchor="middle">80</text>
<text transform="translate(951.0 2445.8) scale(1 1.045)" font-size="35" text-anchor="middle">90</text>
<text x="551.0" y="2488.6" font-size="35" text-anchor="middle" font-weight="bold">2θ(Degree)</text>
<text x="119.2" y="2050.2" font-size="35" text-anchor="middle" font-weight="bold" transform="rotate(-90 119.2 2050.2)">Intensity(a.u)</text>
<text x="359.4" y="1783.8" font-size="35"><tspan dx="-3.5" style='font-family:"Noto Serif CJK SC","Noto Sans CJK SC",serif'>（</tspan><tspan dx="3.5">311</tspan><tspan dx="3.5" style='font-family:"Noto Serif CJK SC","Noto Sans CJK SC",serif'>）</tspan></text>
<text x="280.5" y="1975.9" font-size="35"><tspan dx="-3.5" style='font-family:"Noto Serif CJK SC","Noto Sans CJK SC",serif'>（</tspan><tspan dx="3.5">220</tspan><tspan dx="3.5" style='font-family:"Noto Serif CJK SC","Noto Sans CJK SC",serif'>）</tspan></text>
<text x="458.6" y="2050.8" font-size="35"><tspan dx="-3.5" style='font-family:"Noto Serif CJK SC","Noto Sans CJK SC",serif'>（</tspan><tspan dx="3.5">400</tspan><tspan dx="3.5" style='font-family:"Noto Serif CJK SC","Noto Sans CJK SC",serif'>）</tspan></text>
<text x="579.6" y="2058.5" font-size="35"><tspan dx="-3.5" style='font-family:"Noto Serif CJK SC","Noto Sans CJK SC",serif'>（</tspan><tspan dx="3.5">511</tspan><tspan dx="3.5" style='font-family:"Noto Serif CJK SC","Noto Sans CJK SC",serif'>）</tspan></text>
<text x="527.1" y="2115.2" font-size="35"><tspan dx="-3.5" style='font-family:"Noto Serif CJK SC","Noto Sans CJK SC",serif'>（</tspan><tspan dx="3.5">422</tspan><tspan dx="3.5" style='font-family:"Noto Serif CJK SC","Noto Sans CJK SC",serif'>）</tspan></text>
<text x="662.4" y="2108.2" font-size="35"><tspan dx="-3.5" style='font-family:"Noto Serif CJK SC","Noto Sans CJK SC",serif'>（</tspan><tspan dx="3.5">440</tspan><tspan dx="3.5" style='font-family:"Noto Serif CJK SC","Noto Sans CJK SC",serif'>）</tspan></text>
<text x="40.0" y="1835.0" font-size="115" text-anchor="start" fill="#ff0000">e</text>
<text transform="translate(1156.4 2445.5) scale(1 1.045)" font-size="35" text-anchor="middle">-20000</text>
<text transform="translate(1356.4 2445.5) scale(1 1.045)" font-size="35" text-anchor="middle">-10000</text>
<text transform="translate(1556.4 2445.5) scale(1 1.045)" font-size="35" text-anchor="middle">0</text>
<text transform="translate(1756.4 2445.5) scale(1 1.045)" font-size="35" text-anchor="middle">10000</text>
<text transform="translate(1956.4 2445.5) scale(1 1.045)" font-size="35" text-anchor="middle">20000</text>
<text transform="translate(1142.5 2383.6) scale(1 1.045)" font-size="35" text-anchor="end">-10</text>
<text transform="translate(1142.5 2232.6) scale(1 1.045)" font-size="35" text-anchor="end">-5</text>
<text transform="translate(1142.5 2081.6) scale(1 1.045)" font-size="35" text-anchor="end">0</text>
<text transform="translate(1142.5 1930.6) scale(1 1.045)" font-size="35" text-anchor="end">5</text>
<text transform="translate(1142.5 1779.6) scale(1 1.045)" font-size="35" text-anchor="end">10</text>
<text x="1542.4" y="2484.8" font-size="35" text-anchor="middle" font-weight="bold">Magnetic field(Oe)</text>
<text x="1099.8" y="2071.2" font-size="35" text-anchor="middle" font-weight="bold" transform="rotate(-90 1099.8 2071.2)">Magnetization(emu/g)</text>
<text x="1055.5" y="1838.0" font-size="115" text-anchor="start" fill="#ff0000">f</text>
</svg></body></html>
